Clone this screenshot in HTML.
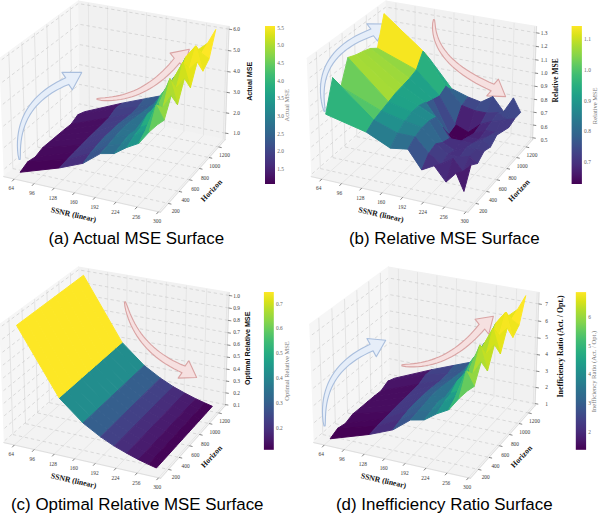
<!DOCTYPE html>
<html><head><meta charset="utf-8"><style>
html,body{margin:0;padding:0;background:#fff;width:598px;height:514px;overflow:hidden;}
#wrap{position:relative;width:598px;height:514px;}
#wrap svg{position:absolute;left:0;top:0;}
.t{position:absolute;font-family:"Liberation Sans",sans-serif;font-size:16.9px;color:#000;white-space:nowrap;line-height:1;}
</style></head><body><div id="wrap">
<svg width="598" height="514" viewBox="0 0 430.56 370.08" version="1.1">
 
 <defs>
  <style type="text/css">*{stroke-linejoin: round; stroke-linecap: butt}</style>
 </defs>
 <g id="figure_1">
  <g id="patch_1">
   <path d="M 0 370.08 L 430.56 370.08 L 430.56 0 L 0 0 z" style="fill: #ffffff"/>
  </g>
  <g id="patch_2">
   <path d="M -13.01 170.19 L 176.65 170.19 L 176.65 -19.48 L -13.01 -19.48 z" style="fill: #ffffff"/>
  </g>
  <g id="pane3d_1">
   <g id="patch_3">
    <path d="M 2.69 127.14 L 57.31 79.40 L 56.34 0.83 L -0.53 42.41 
" style="fill: #f6f6f6; stroke: #f6f6f6; stroke-linejoin: miter"/>
   </g>
  </g>
  <g id="pane3d_2">
   <g id="patch_4">
    <path d="M 57.31 79.40 L 161.99 100.55 L 164.90 19.22 L 56.34 0.83 
" style="fill: #f1f1f1; stroke: #f1f1f1; stroke-linejoin: miter"/>
   </g>
  </g>
  <g id="pane3d_3">
   <g id="patch_5">
    <path d="M 2.69 127.14 L 115.54 152.77 L 161.99 100.55 L 57.31 79.40 
" style="fill: #f3f3f3; stroke: #f3f3f3; stroke-linejoin: miter"/>
   </g>
  </g>
  <g id="grid3d_1">
   <g id="Line3DCollection_1">
    <path d="M 10.26 128.86 L 64.36 80.82 L 63.64 2.07 
" style="fill: none; stroke: #dbdbdb; stroke-width: 0.4"/>
    <path d="M 24.56 132.10 L 77.67 83.51 L 77.42 4.40 
" style="fill: none; stroke: #dbdbdb; stroke-width: 0.4"/>
    <path d="M 39.03 135.39 L 91.12 86.23 L 91.37 6.76 
" style="fill: none; stroke: #dbdbdb; stroke-width: 0.4"/>
    <path d="M 53.68 138.72 L 104.72 88.98 L 105.47 9.15 
" style="fill: none; stroke: #dbdbdb; stroke-width: 0.4"/>
    <path d="M 68.52 142.09 L 118.48 91.76 L 119.73 11.57 
" style="fill: none; stroke: #dbdbdb; stroke-width: 0.4"/>
    <path d="M 83.53 145.50 L 132.39 94.57 L 134.17 14.01 
" style="fill: none; stroke: #dbdbdb; stroke-width: 0.4"/>
    <path d="M 98.74 148.95 L 146.46 97.41 L 148.77 16.48 
" style="fill: none; stroke: #dbdbdb; stroke-width: 0.4"/>
    <path d="M 114.14 152.45 L 160.69 100.28 L 163.55 18.99 
" style="fill: none; stroke: #dbdbdb; stroke-width: 0.4"/>
   </g>
  </g>
  <g id="grid3d_2">
   <g id="Line3DCollection_2">
    <path d="M 6.33 37.39 L 9.26 121.39" style="fill: none; stroke: #d4d4d4; stroke-width: 0.4"/><path d="M 9.26 121.39 L 121.16 146.46" style="fill: none; stroke-dasharray: 2.4,2; stroke-dashoffset: 0; stroke: #c2c2c2; stroke-width: 0.4"/>
    <path d="M 15.74 30.51 L 18.28 113.51" style="fill: none; stroke: #d4d4d4; stroke-width: 0.4"/><path d="M 18.28 113.51 L 128.85 137.81" style="fill: none; stroke-dasharray: 2.4,2; stroke-dashoffset: 0; stroke: #c2c2c2; stroke-width: 0.4"/>
    <path d="M 24.87 23.84 L 27.04 105.85" style="fill: none; stroke: #d4d4d4; stroke-width: 0.4"/><path d="M 27.04 105.85 L 136.30 129.43" style="fill: none; stroke-dasharray: 2.4,2; stroke-dashoffset: 0; stroke: #c2c2c2; stroke-width: 0.4"/>
    <path d="M 33.72 17.37 L 35.54 98.42" style="fill: none; stroke: #d4d4d4; stroke-width: 0.4"/><path d="M 35.54 98.42 L 143.53 121.30" style="fill: none; stroke-dasharray: 2.4,2; stroke-dashoffset: 0; stroke: #c2c2c2; stroke-width: 0.4"/>
    <path d="M 42.31 11.09 L 43.80 91.20" style="fill: none; stroke: #d4d4d4; stroke-width: 0.4"/><path d="M 43.80 91.20 L 150.54 113.42" style="fill: none; stroke-dasharray: 2.4,2; stroke-dashoffset: 0; stroke: #c2c2c2; stroke-width: 0.4"/>
    <path d="M 50.65 4.99 L 51.83 84.19" style="fill: none; stroke: #d4d4d4; stroke-width: 0.4"/><path d="M 51.83 84.19 L 157.35 105.77" style="fill: none; stroke-dasharray: 2.4,2; stroke-dashoffset: 0; stroke: #c2c2c2; stroke-width: 0.4"/>
   </g>
  </g>
  <g id="grid3d_3">
   <g id="Line3DCollection_3">
    <path d="M 162.16 95.83 L 57.26 74.83 L 2.50 122.23 
" style="fill: none; stroke-dasharray: 2.4,2; stroke-dashoffset: 0; stroke: #c2c2c2; stroke-width: 0.4"/>
    <path d="M 162.68 81.26 L 57.08 60.74 L 1.92 107.08 
" style="fill: none; stroke-dasharray: 2.4,2; stroke-dashoffset: 0; stroke: #c2c2c2; stroke-width: 0.4"/>
    <path d="M 163.21 66.50 L 56.90 46.48 L 1.34 91.71 
" style="fill: none; stroke-dasharray: 2.4,2; stroke-dashoffset: 0; stroke: #c2c2c2; stroke-width: 0.4"/>
    <path d="M 163.74 51.54 L 56.73 32.02 L 0.74 76.12 
" style="fill: none; stroke-dasharray: 2.4,2; stroke-dashoffset: 0; stroke: #c2c2c2; stroke-width: 0.4"/>
    <path d="M 164.29 36.37 L 56.55 17.38 L 0.14 60.31 
" style="fill: none; stroke-dasharray: 2.4,2; stroke-dashoffset: 0; stroke: #c2c2c2; stroke-width: 0.4"/>
    <path d="M 164.84 21.00 L 56.36 2.55 L -0.46 44.27 
" style="fill: none; stroke-dasharray: 2.4,2; stroke-dashoffset: 0; stroke: #c2c2c2; stroke-width: 0.4"/>
   </g>
  </g>
  <g id="axis3d_1">
   <g id="line2d_1">
    <path d="M 2.69 127.14 L 115.54 152.77 
" style="fill: none; stroke: #cccccc; stroke-width: 0.4; stroke-linecap: square"/>
   </g>
   <g id="xtick_1">
    <g id="line2d_2">
     <path d="M 13.10 126.34 L 10.26 128.86 
" style="fill: none"/>
    </g>
   </g>
   <g id="xtick_2">
    <g id="line2d_3">
     <path d="M 27.35 129.55 L 24.56 132.10 
" style="fill: none"/>
    </g>
   </g>
   <g id="xtick_3">
    <g id="line2d_4">
     <path d="M 41.77 132.81 L 39.03 135.39 
" style="fill: none"/>
    </g>
   </g>
   <g id="xtick_4">
    <g id="line2d_5">
     <path d="M 56.37 136.10 L 53.68 138.72 
" style="fill: none"/>
    </g>
   </g>
   <g id="xtick_5">
    <g id="line2d_6">
     <path d="M 71.14 139.44 L 68.52 142.09 
" style="fill: none"/>
    </g>
   </g>
   <g id="xtick_6">
    <g id="line2d_7">
     <path d="M 86.11 142.82 L 83.53 145.50 
" style="fill: none"/>
    </g>
   </g>
   <g id="xtick_7">
    <g id="line2d_8">
     <path d="M 101.25 146.24 L 98.74 148.95 
" style="fill: none"/>
    </g>
   </g>
   <g id="xtick_8">
    <g id="line2d_9">
     <path d="M 116.59 149.70 L 114.14 152.45 
" style="fill: none"/>
    </g>
   </g>
  </g>
  <g id="axis3d_2">
   <g id="line2d_10">
    <path d="M 161.99 100.55 L 115.54 152.77 
" style="fill: none; stroke: #cccccc; stroke-width: 0.4; stroke-linecap: square"/>
   </g>
   <g id="xtick_9">
    <g id="line2d_11">
     <path d="M 115.54 145.20 L 121.16 146.46 
" style="fill: none"/>
    </g>
   </g>
   <g id="xtick_10">
    <g id="line2d_12">
     <path d="M 123.30 136.59 L 128.85 137.81 
" style="fill: none"/>
    </g>
   </g>
   <g id="xtick_11">
    <g id="line2d_13">
     <path d="M 130.83 128.25 L 136.30 129.43 
" style="fill: none"/>
    </g>
   </g>
   <g id="xtick_12">
    <g id="line2d_14">
     <path d="M 138.12 120.16 L 143.53 121.30 
" style="fill: none"/>
    </g>
   </g>
   <g id="xtick_13">
    <g id="line2d_15">
     <path d="M 145.20 112.31 L 150.54 113.42 
" style="fill: none"/>
    </g>
   </g>
   <g id="xtick_14">
    <g id="line2d_16">
     <path d="M 152.07 104.69 L 157.35 105.77 
" style="fill: none"/>
    </g>
   </g>
  </g>
  <g id="axis3d_3">
   <g id="line2d_17">
    <path d="M 161.99 100.55 L 164.90 19.22 
" style="fill: none; stroke: #cccccc; stroke-width: 0.4; stroke-linecap: square"/>
   </g>
   <g id="xtick_15">
    <g id="line2d_18">
     <path d="M 156.92 94.78 L 162.16 95.83 
" style="fill: none"/>
    </g>
   </g>
   <g id="xtick_16">
    <g id="line2d_19">
     <path d="M 157.40 80.23 L 162.68 81.26 
" style="fill: none"/>
    </g>
   </g>
   <g id="xtick_17">
    <g id="line2d_20">
     <path d="M 157.89 65.50 L 163.21 66.50 
" style="fill: none"/>
    </g>
   </g>
   <g id="xtick_18">
    <g id="line2d_21">
     <path d="M 158.39 50.56 L 163.74 51.54 
" style="fill: none"/>
    </g>
   </g>
   <g id="xtick_19">
    <g id="line2d_22">
     <path d="M 158.89 35.42 L 164.29 36.37 
" style="fill: none"/>
    </g>
   </g>
   <g id="xtick_20">
    <g id="line2d_23">
     <path d="M 159.41 20.07 L 164.84 21.00 
" style="fill: none"/>
    </g>
   </g>
  </g>
  <g id="axes_1">
   <g transform="scale(0.72)"><path d="M20.14 159.45 L20.36 154.66 L20.43 150.07 L20.67 145.63 L21.1 141.34 L21.72 137.19 L22.55 133.18 L23.58 129.31 L24.82 125.58 L26.26 121.98 L27.9 118.51 L29.76 115.17 L31.82 111.96 L34.08 108.88 L36.56 105.91 L39.25 103.06 L42.15 100.33 L45.27 97.71 L48.6 95.21 L52.16 92.82 L55.94 90.55 L59.94 88.39 L64.16 86.34 L68.68 84.38 L72.45 89.85 L81.7 72.4 L61.95 72.35 L65.72 77.82 L61.13 79.96 L56.69 82.27 L52.48 84.71 L48.5 87.28 L44.75 89.98 L41.24 92.82 L37.95 95.79 L34.91 98.89 L32.1 102.12 L29.53 105.48 L27.21 108.96 L25.13 112.57 L23.3 116.29 L21.71 120.14 L20.37 124.09 L19.27 128.17 L18.43 132.35 L17.83 136.63 L17.48 141.03 L17.38 145.52 L17.55 150.12 L18.01 154.81 L19.06 159.55 Z" fill="#e6eef9" stroke="#a9bedd" stroke-width="1.1" stroke-linejoin="miter"/><path d="M96.98 99.54 L100.97 100.33 L104.98 100.58 L108.95 100.6 L112.9 100.42 L116.81 100.05 L120.68 99.49 L124.51 98.75 L128.31 97.83 L132.07 96.72 L135.78 95.44 L139.45 93.98 L143.08 92.35 L146.66 90.53 L150.19 88.55 L153.68 86.38 L157.12 84.05 L160.5 81.54 L163.84 78.86 L167.13 76 L170.37 72.98 L173.56 69.78 L176.69 66.42 L179.74 62.93 L183.9 68.11 L189.3 49.3 L170.1 53.09 L174.26 58.27 L171.38 61.76 L168.5 65.05 L165.57 68.18 L162.61 71.14 L159.59 73.94 L156.54 76.59 L153.44 79.07 L150.3 81.4 L147.11 83.57 L143.87 85.58 L140.59 87.44 L137.26 89.14 L133.88 90.69 L130.45 92.09 L126.97 93.33 L123.43 94.43 L119.84 95.37 L116.2 96.16 L112.49 96.81 L108.73 97.32 L104.91 97.7 L101.01 97.97 L97.02 98.46 Z" fill="#f6e0e0" stroke="#d9a3a3" stroke-width="1.1" stroke-linejoin="miter"/></g><g id="Poly3DCollection_1">
    <path d="M 56.02 82.63 L 83.15 78.13 L 87.80 74.31 L 60.85 80.44 z" clip-path="url(#p6615d62ce2)" style="fill: #481a6c; stroke: #481a6c; stroke-width: 0.7; stroke-linejoin: round"/>
    <path d="M 51.16 89.44 L 78.43 84.78 L 83.15 78.13 L 56.02 82.63 z" clip-path="url(#p6615d62ce2)" style="fill: #481769; stroke: #481769; stroke-width: 0.7; stroke-linejoin: round"/>
    <path d="M 83.15 78.13 L 99.23 77.15 L 103.79 71.24 L 87.80 74.31 z" clip-path="url(#p6615d62ce2)" style="fill: #414487; stroke: #414487; stroke-width: 0.7; stroke-linejoin: round"/>
    <path d="M 46.18 93.36 L 73.62 89.67 L 78.43 84.78 L 51.16 89.44 z" clip-path="url(#p6615d62ce2)" style="fill: #470e61; stroke: #470e61; stroke-width: 0.7; stroke-linejoin: round"/>
    <path d="M 99.23 77.15 L 111.16 74.31 L 115.64 69.01 L 103.79 71.24 z" clip-path="url(#p6615d62ce2)" style="fill: #375b8d; stroke: #375b8d; stroke-width: 0.7; stroke-linejoin: round"/>
    <path d="M 78.43 84.78 L 94.60 81.85 L 99.23 77.15 L 83.15 78.13 z" clip-path="url(#p6615d62ce2)" style="fill: #423f85; stroke: #423f85; stroke-width: 0.7; stroke-linejoin: round"/>
    <path d="M 41.11 97.60 L 68.73 94.41 L 73.62 89.67 L 46.18 93.36 z" clip-path="url(#p6615d62ce2)" style="fill: #470e61; stroke: #470e61; stroke-width: 0.7; stroke-linejoin: round"/>
    <path d="M 111.16 74.31 L 120.64 67.25 L 125.19 55.59 L 115.64 69.01 z" clip-path="url(#p6615d62ce2)" style="fill: #287c8e; stroke: #287c8e; stroke-width: 0.7; stroke-linejoin: round"/>
    <path d="M 94.60 81.85 L 106.62 77.76 L 111.16 74.31 L 99.23 77.15 z" clip-path="url(#p6615d62ce2)" style="fill: #38588c; stroke: #38588c; stroke-width: 0.7; stroke-linejoin: round"/>
    <path d="M 73.62 89.67 L 89.90 85.59 L 94.60 81.85 L 78.43 84.78 z" clip-path="url(#p6615d62ce2)" style="fill: #443b84; stroke: #443b84; stroke-width: 0.7; stroke-linejoin: round"/>
    <path d="M 35.95 101.96 L 63.75 99.23 L 68.73 94.41 L 41.11 97.60 z" clip-path="url(#p6615d62ce2)" style="fill: #470e61; stroke: #470e61; stroke-width: 0.7; stroke-linejoin: round"/>
    <path d="M 106.62 77.76 L 116.12 73.07 L 120.64 67.25 L 111.16 74.31 z" clip-path="url(#p6615d62ce2)" style="fill: #2c738e; stroke: #2c738e; stroke-width: 0.7; stroke-linejoin: round"/>
    <path d="M 120.64 67.25 L 129.49 53.87 L 133.97 45.18 L 125.19 55.59 z" clip-path="url(#p6615d62ce2)" style="fill: #26ad81; stroke: #26ad81; stroke-width: 0.7; stroke-linejoin: round"/>
    <path d="M 89.90 85.59 L 101.99 81.27 L 106.62 77.76 L 94.60 81.85 z" clip-path="url(#p6615d62ce2)" style="fill: #375b8d; stroke: #375b8d; stroke-width: 0.7; stroke-linejoin: round"/>
    <path d="M 68.73 94.41 L 85.10 89.39 L 89.90 85.59 L 73.62 89.67 z" clip-path="url(#p6615d62ce2)" style="fill: #433d84; stroke: #433d84; stroke-width: 0.7; stroke-linejoin: round"/>
    <path d="M 30.69 106.29 L 58.68 104.38 L 63.75 99.23 L 35.95 101.96 z" clip-path="url(#p6615d62ce2)" style="fill: #470e61; stroke: #470e61; stroke-width: 0.7; stroke-linejoin: round"/>
    <path d="M 101.99 81.27 L 111.52 79.00 L 116.12 73.07 L 106.62 77.76 z" clip-path="url(#p6615d62ce2)" style="fill: #2c728e; stroke: #2c728e; stroke-width: 0.7; stroke-linejoin: round"/>
    <path d="M 116.12 73.07 L 125.02 58.12 L 129.49 53.87 L 120.64 67.25 z" clip-path="url(#p6615d62ce2)" style="fill: #1fa188; stroke: #1fa188; stroke-width: 0.7; stroke-linejoin: round"/>
    <path d="M 129.49 53.87 L 138.02 41.66 L 142.40 36.03 L 133.97 45.18 z" clip-path="url(#p6615d62ce2)" style="fill: #89d548; stroke: #89d548; stroke-width: 0.7; stroke-linejoin: round"/>
    <path d="M 63.75 99.23 L 80.21 93.98 L 85.10 89.39 L 68.73 94.41 z" clip-path="url(#p6615d62ce2)" style="fill: #433d84; stroke: #433d84; stroke-width: 0.7; stroke-linejoin: round"/>
    <path d="M 85.10 89.39 L 97.27 84.85 L 101.99 81.27 L 89.90 85.59 z" clip-path="url(#p6615d62ce2)" style="fill: #355e8d; stroke: #355e8d; stroke-width: 0.7; stroke-linejoin: round"/>
    <path d="M 25.40 113.01 L 53.51 109.62 L 58.68 104.38 L 30.69 106.29 z" clip-path="url(#p6615d62ce2)" style="fill: #460a5d; stroke: #460a5d; stroke-width: 0.7; stroke-linejoin: round"/>
    <path d="M 111.52 79.00 L 120.42 65.51 L 125.02 58.12 L 116.12 73.07 z" clip-path="url(#p6615d62ce2)" style="fill: #1e9b8a; stroke: #1e9b8a; stroke-width: 0.7; stroke-linejoin: round"/>
    <path d="M 138.02 41.66 L 145.07 38.28 L 149.46 31.12 L 142.40 36.03 z" clip-path="url(#p6615d62ce2)" style="fill: #e5e419; stroke: #e5e419; stroke-width: 0.7; stroke-linejoin: round"/>
    <path d="M 97.27 84.85 L 106.86 83.51 L 111.52 79.00 L 101.99 81.27 z" clip-path="url(#p6615d62ce2)" style="fill: #2c728e; stroke: #2c728e; stroke-width: 0.7; stroke-linejoin: round"/>
    <path d="M 125.02 58.12 L 133.69 41.18 L 138.02 41.66 L 129.49 53.87 z" clip-path="url(#p6615d62ce2)" style="fill: #84d44b; stroke: #84d44b; stroke-width: 0.7; stroke-linejoin: round"/>
    <path d="M 58.68 104.38 L 75.23 98.66 L 80.21 93.98 L 63.75 99.23 z" clip-path="url(#p6615d62ce2)" style="fill: #443b84; stroke: #443b84; stroke-width: 0.7; stroke-linejoin: round"/>
    <path d="M 80.21 93.98 L 92.46 88.50 L 97.27 84.85 L 85.10 89.39 z" clip-path="url(#p6615d62ce2)" style="fill: #34618d; stroke: #34618d; stroke-width: 0.7; stroke-linejoin: round"/>
    <path d="M 145.07 38.28 L 150.55 42.37 L 155.34 21.26 L 149.46 31.12 z" clip-path="url(#p6615d62ce2)" style="fill: #fde725; stroke: #fde725; stroke-width: 0.7; stroke-linejoin: round"/>
    <path d="M 19.92 116.51 L 48.25 114.96 L 53.51 109.62 L 25.40 113.01 z" clip-path="url(#p6615d62ce2)" style="fill: #46085c; stroke: #46085c; stroke-width: 0.7; stroke-linejoin: round"/>
    <path d="M 106.86 83.51 L 115.82 68.40 L 120.42 65.51 L 111.52 79.00 z" clip-path="url(#p6615d62ce2)" style="fill: #1f988b; stroke: #1f988b; stroke-width: 0.7; stroke-linejoin: round"/>
    <path d="M 92.46 88.50 L 102.08 91.16 L 106.86 83.51 L 97.27 84.85 z" clip-path="url(#p6615d62ce2)" style="fill: #2c718e; stroke: #2c718e; stroke-width: 0.7; stroke-linejoin: round"/>
    <path d="M 133.69 41.18 L 140.92 33.07 L 145.07 38.28 L 138.02 41.66 z" clip-path="url(#p6615d62ce2)" style="fill: #fbe723; stroke: #fbe723; stroke-width: 0.7; stroke-linejoin: round"/>
    <path d="M 120.42 65.51 L 128.99 54.75 L 133.69 41.18 L 125.02 58.12 z" clip-path="url(#p6615d62ce2)" style="fill: #73d056; stroke: #73d056; stroke-width: 0.7; stroke-linejoin: round"/>
    <path d="M 53.51 109.62 L 70.17 104.14 L 75.23 98.66 L 58.68 104.38 z" clip-path="url(#p6615d62ce2)" style="fill: #443a83; stroke: #443a83; stroke-width: 0.7; stroke-linejoin: round"/>
    <path d="M 140.92 33.07 L 146.09 51.23 L 150.55 42.37 L 145.07 38.28 z" clip-path="url(#p6615d62ce2)" style="fill: #ece51b; stroke: #ece51b; stroke-width: 0.7; stroke-linejoin: round"/>
    <path d="M 75.23 98.66 L 87.56 93.17 L 92.46 88.50 L 80.21 93.98 z" clip-path="url(#p6615d62ce2)" style="fill: #34618d; stroke: #34618d; stroke-width: 0.7; stroke-linejoin: round"/>
    <path d="M 14.46 124.04 L 42.91 120.89 L 48.25 114.96 L 19.92 116.51 z" clip-path="url(#p6615d62ce2)" style="fill: #450457; stroke: #450457; stroke-width: 0.7; stroke-linejoin: round"/>
    <path d="M 102.08 91.16 L 111.02 79.11 L 115.82 68.40 L 106.86 83.51 z" clip-path="url(#p6615d62ce2)" style="fill: #21918c; stroke: #21918c; stroke-width: 0.7; stroke-linejoin: round"/>
    <path d="M 128.99 54.75 L 136.14 49.82 L 140.92 33.07 L 133.69 41.18 z" clip-path="url(#p6615d62ce2)" style="fill: #e7e419; stroke: #e7e419; stroke-width: 0.7; stroke-linejoin: round"/>
    <path d="M 115.82 68.40 L 124.43 57.56 L 128.99 54.75 L 120.42 65.51 z" clip-path="url(#p6615d62ce2)" style="fill: #5ec962; stroke: #5ec962; stroke-width: 0.7; stroke-linejoin: round"/>
    <path d="M 87.56 93.17 L 97.26 94.33 L 102.08 91.16 L 92.46 88.50 z" clip-path="url(#p6615d62ce2)" style="fill: #2c718e; stroke: #2c718e; stroke-width: 0.7; stroke-linejoin: round"/>
    <path d="M 48.25 114.96 L 65.01 110.44 L 70.17 104.14 L 53.51 109.62 z" clip-path="url(#p6615d62ce2)" style="fill: #453781; stroke: #453781; stroke-width: 0.7; stroke-linejoin: round"/>
    <path d="M 136.14 49.82 L 141.96 44.57 L 146.09 51.23 L 140.92 33.07 z" clip-path="url(#p6615d62ce2)" style="fill: #f4e61e; stroke: #f4e61e; stroke-width: 0.7; stroke-linejoin: round"/>
    <path d="M 70.17 104.14 L 82.56 98.87 L 87.56 93.17 L 75.23 98.66 z" clip-path="url(#p6615d62ce2)" style="fill: #34608d; stroke: #34608d; stroke-width: 0.7; stroke-linejoin: round"/>
    <path d="M 97.26 94.33 L 106.24 82.19 L 111.02 79.11 L 102.08 91.16 z" clip-path="url(#p6615d62ce2)" style="fill: #228b8d; stroke: #228b8d; stroke-width: 0.7; stroke-linejoin: round"/>
    <path d="M 111.02 79.11 L 119.62 69.86 L 124.43 57.56 L 115.82 68.40 z" clip-path="url(#p6615d62ce2)" style="fill: #48c16e; stroke: #48c16e; stroke-width: 0.7; stroke-linejoin: round"/>
    <path d="M 124.43 57.56 L 131.80 44.67 L 136.14 49.82 L 128.99 54.75 z" clip-path="url(#p6615d62ce2)" style="fill: #cde11d; stroke: #cde11d; stroke-width: 0.7; stroke-linejoin: round"/>
    <path d="M 82.56 98.87 L 92.34 97.57 L 97.26 94.33 L 87.56 93.17 z" clip-path="url(#p6615d62ce2)" style="fill: #2c738e; stroke: #2c738e; stroke-width: 0.7; stroke-linejoin: round"/>
    <path d="M 42.91 120.89 L 59.77 117.58 L 65.01 110.44 L 48.25 114.96 z" clip-path="url(#p6615d62ce2)" style="fill: #472f7d; stroke: #472f7d; stroke-width: 0.7; stroke-linejoin: round"/>
    <path d="M 131.80 44.67 L 137.11 63.09 L 141.96 44.57 L 136.14 49.82 z" clip-path="url(#p6615d62ce2)" style="fill: #e5e419; stroke: #e5e419; stroke-width: 0.7; stroke-linejoin: round"/>
    <path d="M 65.01 110.44 L 77.47 104.67 L 82.56 98.87 L 70.17 104.14 z" clip-path="url(#p6615d62ce2)" style="fill: #365c8d; stroke: #365c8d; stroke-width: 0.7; stroke-linejoin: round"/>
    <path d="M 106.24 82.19 L 114.87 74.45 L 119.62 69.86 L 111.02 79.11 z" clip-path="url(#p6615d62ce2)" style="fill: #34b679; stroke: #34b679; stroke-width: 0.7; stroke-linejoin: round"/>
    <path d="M 119.62 69.86 L 126.87 63.36 L 131.80 44.67 L 124.43 57.56 z" clip-path="url(#p6615d62ce2)" style="fill: #b0dd2f; stroke: #b0dd2f; stroke-width: 0.7; stroke-linejoin: round"/>
    <path d="M 92.34 97.57 L 101.31 91.61 L 106.24 82.19 L 97.26 94.33 z" clip-path="url(#p6615d62ce2)" style="fill: #228b8d; stroke: #228b8d; stroke-width: 0.7; stroke-linejoin: round"/>
    <path d="M 77.47 104.67 L 87.31 103.99 L 92.34 97.57 L 82.56 98.87 z" clip-path="url(#p6615d62ce2)" style="fill: #2c718e; stroke: #2c718e; stroke-width: 0.7; stroke-linejoin: round"/>
    <path d="M 126.87 63.36 L 132.77 56.50 L 137.11 63.09 L 131.80 44.67 z" clip-path="url(#p6615d62ce2)" style="fill: #d0e11c; stroke: #d0e11c; stroke-width: 0.7; stroke-linejoin: round"/>
    <path d="M 59.77 117.58 L 72.28 110.59 L 77.47 104.67 L 65.01 110.44 z" clip-path="url(#p6615d62ce2)" style="fill: #39558c; stroke: #39558c; stroke-width: 0.7; stroke-linejoin: round"/>
    <path d="M 101.31 91.61 L 109.91 88.63 L 114.87 74.45 L 106.24 82.19 z" clip-path="url(#p6615d62ce2)" style="fill: #25ac82; stroke: #25ac82; stroke-width: 0.7; stroke-linejoin: round"/>
    <path d="M 114.87 74.45 L 122.35 56.70 L 126.87 63.36 L 119.62 69.86 z" clip-path="url(#p6615d62ce2)" style="fill: #95d840; stroke: #95d840; stroke-width: 0.7; stroke-linejoin: round"/>
    <path d="M 87.31 103.99 L 96.33 98.03 L 101.31 91.61 L 92.34 97.57 z" clip-path="url(#p6615d62ce2)" style="fill: #25858e; stroke: #25858e; stroke-width: 0.7; stroke-linejoin: round"/>
    <path d="M 72.28 110.59 L 82.18 110.54 L 87.31 103.99 L 77.47 104.67 z" clip-path="url(#p6615d62ce2)" style="fill: #2e6d8e; stroke: #2e6d8e; stroke-width: 0.7; stroke-linejoin: round"/>
    <path d="M 122.35 56.70 L 127.81 75.39 L 132.77 56.50 L 126.87 63.36 z" clip-path="url(#p6615d62ce2)" style="fill: #c0df25; stroke: #c0df25; stroke-width: 0.7; stroke-linejoin: round"/>
    <path d="M 96.33 98.03 L 104.99 93.47 L 109.91 88.63 L 101.31 91.61 z" clip-path="url(#p6615d62ce2)" style="fill: #1f9e89; stroke: #1f9e89; stroke-width: 0.7; stroke-linejoin: round"/>
    <path d="M 109.91 88.63 L 117.28 77.36 L 122.35 56.70 L 114.87 74.45 z" clip-path="url(#p6615d62ce2)" style="fill: #73d056; stroke: #73d056; stroke-width: 0.7; stroke-linejoin: round"/>
    <path d="M 82.18 110.54 L 91.25 106.15 L 96.33 98.03 L 87.31 103.99 z" clip-path="url(#p6615d62ce2)" style="fill: #277e8e; stroke: #277e8e; stroke-width: 0.7; stroke-linejoin: round"/>
    <path d="M 117.28 77.36 L 123.25 68.85 L 127.81 75.39 L 122.35 56.70 z" clip-path="url(#p6615d62ce2)" style="fill: #addc30; stroke: #addc30; stroke-width: 0.7; stroke-linejoin: round"/>
    <path d="M 104.99 93.47 L 112.47 75.68 L 117.28 77.36 L 109.91 88.63 z" clip-path="url(#p6615d62ce2)" style="fill: #4cc26c; stroke: #4cc26c; stroke-width: 0.7; stroke-linejoin: round"/>
    <path d="M 91.25 106.15 L 99.93 103.20 L 104.99 93.47 L 96.33 98.03 z" clip-path="url(#p6615d62ce2)" style="fill: #1f958b; stroke: #1f958b; stroke-width: 0.7; stroke-linejoin: round"/>
    <path d="M 112.47 75.68 L 118.19 86.52 L 123.25 68.85 L 117.28 77.36 z" clip-path="url(#p6615d62ce2)" style="fill: #90d743; stroke: #90d743; stroke-width: 0.7; stroke-linejoin: round"/>
    <path d="M 99.93 103.20 L 107.31 95.09 L 112.47 75.68 L 104.99 93.47 z" clip-path="url(#p6615d62ce2)" style="fill: #37b878; stroke: #37b878; stroke-width: 0.7; stroke-linejoin: round"/>
    <path d="M 107.31 95.09 L 113.27 89.82 L 118.19 86.52 L 112.47 75.68 z" clip-path="url(#p6615d62ce2)" style="fill: #65cb5e; stroke: #65cb5e; stroke-width: 0.7; stroke-linejoin: round"/>
   </g>
  </g>
  <g id="patch_6">
   <path d="M 208.38 170.19 L 398.05 170.19 L 398.05 -19.48 L 208.38 -19.48 z" style="fill: #ffffff"/>
  </g>
  <g id="pane3d_4">
   <g id="patch_7">
    <path d="M 224.09 127.14 L 278.71 79.40 L 277.74 0.83 L 220.86 42.41 
" style="fill: #f6f6f6; stroke: #f6f6f6; stroke-linejoin: miter"/>
   </g>
  </g>
  <g id="pane3d_5">
   <g id="patch_8">
    <path d="M 278.71 79.40 L 383.39 100.55 L 386.30 19.22 L 277.74 0.83 
" style="fill: #f1f1f1; stroke: #f1f1f1; stroke-linejoin: miter"/>
   </g>
  </g>
  <g id="pane3d_6">
   <g id="patch_9">
    <path d="M 224.09 127.14 L 336.94 152.77 L 383.39 100.55 L 278.71 79.40 
" style="fill: #f3f3f3; stroke: #f3f3f3; stroke-linejoin: miter"/>
   </g>
  </g>
  <g id="grid3d_4">
   <g id="Line3DCollection_4">
    <path d="M 231.66 128.86 L 285.76 80.82 L 285.04 2.07 
" style="fill: none; stroke: #dbdbdb; stroke-width: 0.4"/>
    <path d="M 245.96 132.10 L 299.07 83.51 L 298.82 4.40 
" style="fill: none; stroke: #dbdbdb; stroke-width: 0.4"/>
    <path d="M 260.43 135.39 L 312.52 86.23 L 312.77 6.76 
" style="fill: none; stroke: #dbdbdb; stroke-width: 0.4"/>
    <path d="M 275.08 138.72 L 326.12 88.98 L 326.87 9.15 
" style="fill: none; stroke: #dbdbdb; stroke-width: 0.4"/>
    <path d="M 289.92 142.09 L 339.88 91.76 L 341.13 11.57 
" style="fill: none; stroke: #dbdbdb; stroke-width: 0.4"/>
    <path d="M 304.93 145.50 L 353.79 94.57 L 355.57 14.01 
" style="fill: none; stroke: #dbdbdb; stroke-width: 0.4"/>
    <path d="M 320.14 148.95 L 367.86 97.41 L 370.17 16.48 
" style="fill: none; stroke: #dbdbdb; stroke-width: 0.4"/>
    <path d="M 335.54 152.45 L 382.09 100.28 L 384.95 18.99 
" style="fill: none; stroke: #dbdbdb; stroke-width: 0.4"/>
   </g>
  </g>
  <g id="grid3d_5">
   <g id="Line3DCollection_5">
    <path d="M 227.73 37.39 L 230.66 121.39" style="fill: none; stroke: #d4d4d4; stroke-width: 0.4"/><path d="M 230.66 121.39 L 342.56 146.46" style="fill: none; stroke-dasharray: 2.4,2; stroke-dashoffset: 0; stroke: #c2c2c2; stroke-width: 0.4"/>
    <path d="M 237.14 30.51 L 239.68 113.51" style="fill: none; stroke: #d4d4d4; stroke-width: 0.4"/><path d="M 239.68 113.51 L 350.25 137.81" style="fill: none; stroke-dasharray: 2.4,2; stroke-dashoffset: 0; stroke: #c2c2c2; stroke-width: 0.4"/>
    <path d="M 246.27 23.84 L 248.44 105.85" style="fill: none; stroke: #d4d4d4; stroke-width: 0.4"/><path d="M 248.44 105.85 L 357.70 129.43" style="fill: none; stroke-dasharray: 2.4,2; stroke-dashoffset: 0; stroke: #c2c2c2; stroke-width: 0.4"/>
    <path d="M 255.12 17.37 L 256.94 98.42" style="fill: none; stroke: #d4d4d4; stroke-width: 0.4"/><path d="M 256.94 98.42 L 364.93 121.30" style="fill: none; stroke-dasharray: 2.4,2; stroke-dashoffset: 0; stroke: #c2c2c2; stroke-width: 0.4"/>
    <path d="M 263.71 11.09 L 265.20 91.20" style="fill: none; stroke: #d4d4d4; stroke-width: 0.4"/><path d="M 265.20 91.20 L 371.94 113.42" style="fill: none; stroke-dasharray: 2.4,2; stroke-dashoffset: 0; stroke: #c2c2c2; stroke-width: 0.4"/>
    <path d="M 272.05 4.99 L 273.23 84.19" style="fill: none; stroke: #d4d4d4; stroke-width: 0.4"/><path d="M 273.23 84.19 L 378.75 105.77" style="fill: none; stroke-dasharray: 2.4,2; stroke-dashoffset: 0; stroke: #c2c2c2; stroke-width: 0.4"/>
   </g>
  </g>
  <g id="grid3d_6">
   <g id="Line3DCollection_6">
    <path d="M 383.44 99.18 L 278.70 78.07 L 224.03 125.72 
" style="fill: none; stroke-dasharray: 2.4,2; stroke-dashoffset: 0; stroke: #c2c2c2; stroke-width: 0.4"/>
    <path d="M 383.77 90.01 L 278.59 69.21 L 223.67 116.18 
" style="fill: none; stroke-dasharray: 2.4,2; stroke-dashoffset: 0; stroke: #c2c2c2; stroke-width: 0.4"/>
    <path d="M 384.10 80.77 L 278.48 60.27 L 223.30 106.57 
" style="fill: none; stroke-dasharray: 2.4,2; stroke-dashoffset: 0; stroke: #c2c2c2; stroke-width: 0.4"/>
    <path d="M 384.43 71.45 L 278.36 51.26 L 222.93 96.86 
" style="fill: none; stroke-dasharray: 2.4,2; stroke-dashoffset: 0; stroke: #c2c2c2; stroke-width: 0.4"/>
    <path d="M 384.77 62.05 L 278.25 42.17 L 222.56 87.07 
" style="fill: none; stroke-dasharray: 2.4,2; stroke-dashoffset: 0; stroke: #c2c2c2; stroke-width: 0.4"/>
    <path d="M 385.11 52.56 L 278.14 33.01 L 222.18 77.19 
" style="fill: none; stroke-dasharray: 2.4,2; stroke-dashoffset: 0; stroke: #c2c2c2; stroke-width: 0.4"/>
    <path d="M 385.45 43.00 L 278.02 23.78 L 221.80 67.22 
" style="fill: none; stroke-dasharray: 2.4,2; stroke-dashoffset: 0; stroke: #c2c2c2; stroke-width: 0.4"/>
    <path d="M 385.79 33.35 L 277.91 14.47 L 221.42 57.16 
" style="fill: none; stroke-dasharray: 2.4,2; stroke-dashoffset: 0; stroke: #c2c2c2; stroke-width: 0.4"/>
    <path d="M 386.14 23.62 L 277.79 5.08 L 221.03 47.01 
" style="fill: none; stroke-dasharray: 2.4,2; stroke-dashoffset: 0; stroke: #c2c2c2; stroke-width: 0.4"/>
   </g>
  </g>
  <g id="axis3d_4">
   <g id="line2d_24">
    <path d="M 224.09 127.14 L 336.94 152.77 
" style="fill: none; stroke: #cccccc; stroke-width: 0.4; stroke-linecap: square"/>
   </g>
   <g id="xtick_21">
    <g id="line2d_25">
     <path d="M 234.50 126.34 L 231.66 128.86 
" style="fill: none"/>
    </g>
   </g>
   <g id="xtick_22">
    <g id="line2d_26">
     <path d="M 248.75 129.55 L 245.96 132.10 
" style="fill: none"/>
    </g>
   </g>
   <g id="xtick_23">
    <g id="line2d_27">
     <path d="M 263.17 132.81 L 260.43 135.39 
" style="fill: none"/>
    </g>
   </g>
   <g id="xtick_24">
    <g id="line2d_28">
     <path d="M 277.77 136.10 L 275.08 138.72 
" style="fill: none"/>
    </g>
   </g>
   <g id="xtick_25">
    <g id="line2d_29">
     <path d="M 292.54 139.44 L 289.92 142.09 
" style="fill: none"/>
    </g>
   </g>
   <g id="xtick_26">
    <g id="line2d_30">
     <path d="M 307.51 142.82 L 304.93 145.50 
" style="fill: none"/>
    </g>
   </g>
   <g id="xtick_27">
    <g id="line2d_31">
     <path d="M 322.65 146.24 L 320.14 148.95 
" style="fill: none"/>
    </g>
   </g>
   <g id="xtick_28">
    <g id="line2d_32">
     <path d="M 337.99 149.70 L 335.54 152.45 
" style="fill: none"/>
    </g>
   </g>
  </g>
  <g id="axis3d_5">
   <g id="line2d_33">
    <path d="M 383.39 100.55 L 336.94 152.77 
" style="fill: none; stroke: #cccccc; stroke-width: 0.4; stroke-linecap: square"/>
   </g>
   <g id="xtick_29">
    <g id="line2d_34">
     <path d="M 336.94 145.20 L 342.56 146.46 
" style="fill: none"/>
    </g>
   </g>
   <g id="xtick_30">
    <g id="line2d_35">
     <path d="M 344.70 136.59 L 350.25 137.81 
" style="fill: none"/>
    </g>
   </g>
   <g id="xtick_31">
    <g id="line2d_36">
     <path d="M 352.23 128.25 L 357.70 129.43 
" style="fill: none"/>
    </g>
   </g>
   <g id="xtick_32">
    <g id="line2d_37">
     <path d="M 359.52 120.16 L 364.93 121.30 
" style="fill: none"/>
    </g>
   </g>
   <g id="xtick_33">
    <g id="line2d_38">
     <path d="M 366.60 112.31 L 371.94 113.42 
" style="fill: none"/>
    </g>
   </g>
   <g id="xtick_34">
    <g id="line2d_39">
     <path d="M 373.47 104.69 L 378.75 105.77 
" style="fill: none"/>
    </g>
   </g>
  </g>
  <g id="axis3d_6">
   <g id="line2d_40">
    <path d="M 383.39 100.55 L 386.30 19.22 
" style="fill: none; stroke: #cccccc; stroke-width: 0.4; stroke-linecap: square"/>
   </g>
   <g id="xtick_35">
    <g id="line2d_41">
     <path d="M 378.20 98.12 L 383.44 99.18 
" style="fill: none"/>
    </g>
   </g>
   <g id="xtick_36">
    <g id="line2d_42">
     <path d="M 378.51 88.97 L 383.77 90.01 
" style="fill: none"/>
    </g>
   </g>
   <g id="xtick_37">
    <g id="line2d_43">
     <path d="M 378.82 79.74 L 384.10 80.77 
" style="fill: none"/>
    </g>
   </g>
   <g id="xtick_38">
    <g id="line2d_44">
     <path d="M 379.13 70.44 L 384.43 71.45 
" style="fill: none"/>
    </g>
   </g>
   <g id="xtick_39">
    <g id="line2d_45">
     <path d="M 379.44 61.05 L 384.77 62.05 
" style="fill: none"/>
    </g>
   </g>
   <g id="xtick_40">
    <g id="line2d_46">
     <path d="M 379.76 51.59 L 385.11 52.56 
" style="fill: none"/>
    </g>
   </g>
   <g id="xtick_41">
    <g id="line2d_47">
     <path d="M 380.07 42.04 L 385.45 43.00 
" style="fill: none"/>
    </g>
   </g>
   <g id="xtick_42">
    <g id="line2d_48">
     <path d="M 380.39 32.41 L 385.79 33.35 
" style="fill: none"/>
    </g>
   </g>
   <g id="xtick_43">
    <g id="line2d_49">
     <path d="M 380.72 22.69 L 386.14 23.62 
" style="fill: none"/>
    </g>
   </g>
  </g>
  <g id="axes_2">
   <g transform="scale(0.72)"><path d="M325.13 111.19 L324.76 106.24 L324.31 101.55 L324.08 97.03 L324.09 92.67 L324.36 88.46 L324.87 84.41 L325.65 80.51 L326.67 76.76 L327.95 73.15 L329.49 69.68 L331.28 66.34 L333.32 63.13 L335.62 60.06 L338.18 57.1 L341.01 54.26 L344.1 51.54 L347.46 48.94 L351.1 46.45 L355.01 44.08 L359.2 41.83 L363.67 39.69 L368.42 37.67 L373.51 35.75 L377.62 41.04 L385.6 24 L366.78 23.76 L370.89 29.05 L365.71 31.15 L360.74 33.42 L356.04 35.82 L351.63 38.36 L347.49 41.05 L343.64 43.88 L340.08 46.85 L336.8 49.96 L333.81 53.21 L331.12 56.59 L328.72 60.12 L326.62 63.77 L324.83 67.56 L323.34 71.46 L322.16 75.49 L321.28 79.62 L320.7 83.87 L320.43 88.23 L320.46 92.69 L320.8 97.25 L321.45 101.91 L322.44 106.66 L324.07 111.41 Z" fill="#e6eef9" stroke="#a9bedd" stroke-width="1.1" stroke-linejoin="miter"/><path d="M433.46 19.67 L432.66 23.19 L432.48 26.74 L432.62 30.27 L433.05 33.78 L433.76 37.25 L434.74 40.68 L436 44.07 L437.53 47.41 L439.32 50.7 L441.38 53.94 L443.7 57.12 L446.27 60.25 L449.11 63.31 L452.19 66.32 L455.53 69.27 L459.11 72.16 L462.95 74.99 L467.03 77.77 L471.37 80.49 L475.94 83.15 L480.77 85.75 L485.83 88.3 L491.11 90.78 L486.75 95.86 L505.6 96.6 L498.45 79.14 L494.09 84.22 L488.85 81.91 L483.89 79.57 L479.18 77.18 L474.72 74.75 L470.5 72.28 L466.53 69.76 L462.81 67.2 L459.33 64.6 L456.09 61.95 L453.09 59.27 L450.33 56.54 L447.82 53.77 L445.53 50.95 L443.48 48.09 L441.66 45.19 L440.06 42.23 L438.69 39.22 L437.54 36.16 L436.6 33.03 L435.88 29.83 L435.36 26.57 L435.01 23.21 L434.54 19.73 Z" fill="#f6e0e0" stroke="#d9a3a3" stroke-width="1.1" stroke-linejoin="miter"/></g><g id="Poly3DCollection_2">
    <path d="M 320.73 61.54 L 332.54 75.98 L 337.03 69.84 L 325.25 63.87 z" clip-path="url(#p989c612ba4)" style="fill: #32648e; stroke: #32648e; stroke-width: 0.7; stroke-linejoin: round"/>
    <path d="M 276.47 9.89 L 304.53 36.81 L 309.25 42.24 L 281.63 23.20 z" clip-path="url(#p989c612ba4)" style="fill: #fde725; stroke: #fde725; stroke-width: 0.7; stroke-linejoin: round"/>
    <path d="M 304.53 36.81 L 320.73 61.54 L 325.25 63.87 L 309.25 42.24 z" clip-path="url(#p989c612ba4)" style="fill: #25ab82; stroke: #25ab82; stroke-width: 0.7; stroke-linejoin: round"/>
    <path d="M 332.54 75.98 L 341.83 79.68 L 346.26 73.49 L 337.03 69.84 z" clip-path="url(#p989c612ba4)" style="fill: #3f4889; stroke: #3f4889; stroke-width: 0.7; stroke-linejoin: round"/>
    <path d="M 341.83 79.68 L 350.33 81.35 L 354.83 69.54 L 346.26 73.49 z" clip-path="url(#p989c612ba4)" style="fill: #3e4c8a; stroke: #3e4c8a; stroke-width: 0.7; stroke-linejoin: round"/>
    <path d="M 316.06 68.61 L 327.90 89.68 L 332.54 75.98 L 320.73 61.54 z" clip-path="url(#p989c612ba4)" style="fill: #375a8c; stroke: #375a8c; stroke-width: 0.7; stroke-linejoin: round"/>
    <path d="M 327.90 89.68 L 337.20 95.28 L 341.83 79.68 L 332.54 75.98 z" clip-path="url(#p989c612ba4)" style="fill: #482173; stroke: #482173; stroke-width: 0.7; stroke-linejoin: round"/>
    <path d="M 271.73 34.73 L 299.74 50.37 L 304.53 36.81 L 276.47 9.89 z" clip-path="url(#p989c612ba4)" style="fill: #f6e620; stroke: #f6e620; stroke-width: 0.7; stroke-linejoin: round"/>
    <path d="M 350.33 81.35 L 358.47 81.07 L 362.65 80.40 L 354.83 69.54 z" clip-path="url(#p989c612ba4)" style="fill: #3f4889; stroke: #3f4889; stroke-width: 0.7; stroke-linejoin: round"/>
    <path d="M 299.74 50.37 L 316.06 68.61 L 320.73 61.54 L 304.53 36.81 z" clip-path="url(#p989c612ba4)" style="fill: #29af7f; stroke: #29af7f; stroke-width: 0.7; stroke-linejoin: round"/>
    <path d="M 358.47 81.07 L 365.16 86.16 L 369.71 70.51 L 362.65 80.40 z" clip-path="url(#p989c612ba4)" style="fill: #3f4889; stroke: #3f4889; stroke-width: 0.7; stroke-linejoin: round"/>
    <path d="M 337.20 95.28 L 345.84 89.55 L 350.33 81.35 L 341.83 79.68 z" clip-path="url(#p989c612ba4)" style="fill: #482475; stroke: #482475; stroke-width: 0.7; stroke-linejoin: round"/>
    <path d="M 365.16 86.16 L 370.67 85.36 L 374.86 80.92 L 369.71 70.51 z" clip-path="url(#p989c612ba4)" style="fill: #3f4889; stroke: #3f4889; stroke-width: 0.7; stroke-linejoin: round"/>
    <path d="M 266.55 34.91 L 294.86 56.45 L 299.74 50.37 L 271.73 34.73 z" clip-path="url(#p989c612ba4)" style="fill: #93d741; stroke: #93d741; stroke-width: 0.7; stroke-linejoin: round"/>
    <path d="M 323.27 96.06 L 332.64 101.73 L 337.20 95.28 L 327.90 89.68 z" clip-path="url(#p989c612ba4)" style="fill: #440154; stroke: #440154; stroke-width: 0.7; stroke-linejoin: round"/>
    <path d="M 311.33 71.05 L 323.27 96.06 L 327.90 89.68 L 316.06 68.61 z" clip-path="url(#p989c612ba4)" style="fill: #3f4889; stroke: #3f4889; stroke-width: 0.7; stroke-linejoin: round"/>
    <path d="M 345.84 89.55 L 354.07 87.42 L 358.47 81.07 L 350.33 81.35 z" clip-path="url(#p989c612ba4)" style="fill: #443a83; stroke: #443a83; stroke-width: 0.7; stroke-linejoin: round"/>
    <path d="M 294.86 56.45 L 311.33 71.05 L 316.06 68.61 L 299.74 50.37 z" clip-path="url(#p989c612ba4)" style="fill: #1fa188; stroke: #1fa188; stroke-width: 0.7; stroke-linejoin: round"/>
    <path d="M 332.64 101.73 L 341.33 95.99 L 345.84 89.55 L 337.20 95.28 z" clip-path="url(#p989c612ba4)" style="fill: #440154; stroke: #440154; stroke-width: 0.7; stroke-linejoin: round"/>
    <path d="M 354.07 87.42 L 360.96 86.89 L 365.16 86.16 L 358.47 81.07 z" clip-path="url(#p989c612ba4)" style="fill: #424086; stroke: #424086; stroke-width: 0.7; stroke-linejoin: round"/>
    <path d="M 360.96 86.89 L 366.36 91.77 L 370.67 85.36 L 365.16 86.16 z" clip-path="url(#p989c612ba4)" style="fill: #443a83; stroke: #443a83; stroke-width: 0.7; stroke-linejoin: round"/>
    <path d="M 261.31 37.02 L 289.89 61.67 L 294.86 56.45 L 266.55 34.91 z" clip-path="url(#p989c612ba4)" style="fill: #9dd93b; stroke: #9dd93b; stroke-width: 0.7; stroke-linejoin: round"/>
    <path d="M 318.64 91.23 L 328.04 104.52 L 332.64 101.73 L 323.27 96.06 z" clip-path="url(#p989c612ba4)" style="fill: #440154; stroke: #440154; stroke-width: 0.7; stroke-linejoin: round"/>
    <path d="M 341.33 95.99 L 349.60 93.88 L 354.07 87.42 L 345.84 89.55 z" clip-path="url(#p989c612ba4)" style="fill: #472a7a; stroke: #472a7a; stroke-width: 0.7; stroke-linejoin: round"/>
    <path d="M 306.51 73.54 L 318.64 91.23 L 323.27 96.06 L 311.33 71.05 z" clip-path="url(#p989c612ba4)" style="fill: #38598c; stroke: #38598c; stroke-width: 0.7; stroke-linejoin: round"/>
    <path d="M 289.89 61.67 L 306.51 73.54 L 311.33 71.05 L 294.86 56.45 z" clip-path="url(#p989c612ba4)" style="fill: #1fa187; stroke: #1fa187; stroke-width: 0.7; stroke-linejoin: round"/>
    <path d="M 328.04 104.52 L 336.78 98.75 L 341.33 95.99 L 332.64 101.73 z" clip-path="url(#p989c612ba4)" style="fill: #440154; stroke: #440154; stroke-width: 0.7; stroke-linejoin: round"/>
    <path d="M 349.60 93.88 L 356.48 95.27 L 360.96 86.89 L 354.07 87.42 z" clip-path="url(#p989c612ba4)" style="fill: #443a83; stroke: #443a83; stroke-width: 0.7; stroke-linejoin: round"/>
    <path d="M 356.48 95.27 L 362.07 94.48 L 366.36 91.77 L 360.96 86.89 z" clip-path="url(#p989c612ba4)" style="fill: #443a83; stroke: #443a83; stroke-width: 0.7; stroke-linejoin: round"/>
    <path d="M 255.96 39.66 L 284.84 66.99 L 289.89 61.67 L 261.31 37.02 z" clip-path="url(#p989c612ba4)" style="fill: #a2da37; stroke: #a2da37; stroke-width: 0.7; stroke-linejoin: round"/>
    <path d="M 336.78 98.75 L 345.05 100.44 L 349.60 93.88 L 341.33 95.99 z" clip-path="url(#p989c612ba4)" style="fill: #482475; stroke: #482475; stroke-width: 0.7; stroke-linejoin: round"/>
    <path d="M 284.84 66.99 L 301.58 76.09 L 306.51 73.54 L 289.89 61.67 z" clip-path="url(#p989c612ba4)" style="fill: #20a386; stroke: #20a386; stroke-width: 0.7; stroke-linejoin: round"/>
    <path d="M 313.88 84.34 L 323.41 99.75 L 328.04 104.52 L 318.64 91.23 z" clip-path="url(#p989c612ba4)" style="fill: #443a83; stroke: #443a83; stroke-width: 0.7; stroke-linejoin: round"/>
    <path d="M 345.05 100.44 L 352.06 98.04 L 356.48 95.27 L 349.60 93.88 z" clip-path="url(#p989c612ba4)" style="fill: #46307e; stroke: #46307e; stroke-width: 0.7; stroke-linejoin: round"/>
    <path d="M 301.58 76.09 L 313.88 84.34 L 318.64 91.23 L 306.51 73.54 z" clip-path="url(#p989c612ba4)" style="fill: #2a788e; stroke: #2a788e; stroke-width: 0.7; stroke-linejoin: round"/>
    <path d="M 323.41 99.75 L 332.15 101.56 L 336.78 98.75 L 328.04 104.52 z" clip-path="url(#p989c612ba4)" style="fill: #481d6f; stroke: #481d6f; stroke-width: 0.7; stroke-linejoin: round"/>
    <path d="M 352.06 98.04 L 357.69 97.25 L 362.07 94.48 L 356.48 95.27 z" clip-path="url(#p989c612ba4)" style="fill: #433d84; stroke: #433d84; stroke-width: 0.7; stroke-linejoin: round"/>
    <path d="M 250.48 41.38 L 279.71 73.37 L 284.84 66.99 L 255.96 39.66 z" clip-path="url(#p989c612ba4)" style="fill: #a5db36; stroke: #a5db36; stroke-width: 0.7; stroke-linejoin: round"/>
    <path d="M 332.15 101.56 L 340.49 103.28 L 345.05 100.44 L 336.78 98.75 z" clip-path="url(#p989c612ba4)" style="fill: #472a7a; stroke: #472a7a; stroke-width: 0.7; stroke-linejoin: round"/>
    <path d="M 279.71 73.37 L 296.56 80.63 L 301.58 76.09 L 284.84 66.99 z" clip-path="url(#p989c612ba4)" style="fill: #1fa287; stroke: #1fa287; stroke-width: 0.7; stroke-linejoin: round"/>
    <path d="M 340.49 103.28 L 347.55 100.87 L 352.06 98.04 L 345.05 100.44 z" clip-path="url(#p989c612ba4)" style="fill: #453781; stroke: #453781; stroke-width: 0.7; stroke-linejoin: round"/>
    <path d="M 296.56 80.63 L 308.97 87.03 L 313.88 84.34 L 301.58 76.09 z" clip-path="url(#p989c612ba4)" style="fill: #228b8d; stroke: #228b8d; stroke-width: 0.7; stroke-linejoin: round"/>
    <path d="M 308.97 87.03 L 318.61 102.59 L 323.41 99.75 L 313.88 84.34 z" clip-path="url(#p989c612ba4)" style="fill: #355e8d; stroke: #355e8d; stroke-width: 0.7; stroke-linejoin: round"/>
    <path d="M 318.61 102.59 L 327.38 108.29 L 332.15 101.56 L 323.41 99.75 z" clip-path="url(#p989c612ba4)" style="fill: #46307e; stroke: #46307e; stroke-width: 0.7; stroke-linejoin: round"/>
    <path d="M 245.42 62.37 L 274.49 79.87 L 279.71 73.37 L 250.48 41.38 z" clip-path="url(#p989c612ba4)" style="fill: #6ccd5a; stroke: #6ccd5a; stroke-width: 0.7; stroke-linejoin: round"/>
    <path d="M 347.55 100.87 L 353.10 105.89 L 357.69 97.25 L 352.06 98.04 z" clip-path="url(#p989c612ba4)" style="fill: #424086; stroke: #424086; stroke-width: 0.7; stroke-linejoin: round"/>
    <path d="M 327.38 108.29 L 335.83 106.18 L 340.49 103.28 L 332.15 101.56 z" clip-path="url(#p989c612ba4)" style="fill: #46307e; stroke: #46307e; stroke-width: 0.7; stroke-linejoin: round"/>
    <path d="M 274.49 79.87 L 291.46 87.22 L 296.56 80.63 L 279.71 73.37 z" clip-path="url(#p989c612ba4)" style="fill: #1e9c89; stroke: #1e9c89; stroke-width: 0.7; stroke-linejoin: round"/>
    <path d="M 335.83 106.18 L 342.88 107.65 L 347.55 100.87 L 340.49 103.28 z" clip-path="url(#p989c612ba4)" style="fill: #433d84; stroke: #433d84; stroke-width: 0.7; stroke-linejoin: round"/>
    <path d="M 239.51 55.91 L 269.18 86.48 L 274.49 79.87 L 245.42 62.37 z" clip-path="url(#p989c612ba4)" style="fill: #52c569; stroke: #52c569; stroke-width: 0.7; stroke-linejoin: round"/>
    <path d="M 291.46 87.22 L 303.95 91.74 L 308.97 87.03 L 296.56 80.63 z" clip-path="url(#p989c612ba4)" style="fill: #228b8d; stroke: #228b8d; stroke-width: 0.7; stroke-linejoin: round"/>
    <path d="M 342.88 107.65 L 348.54 108.83 L 353.10 105.89 L 347.55 100.87 z" clip-path="url(#p989c612ba4)" style="fill: #433d84; stroke: #433d84; stroke-width: 0.7; stroke-linejoin: round"/>
    <path d="M 303.95 91.74 L 313.71 103.55 L 318.61 102.59 L 308.97 87.03 z" clip-path="url(#p989c612ba4)" style="fill: #31688e; stroke: #31688e; stroke-width: 0.7; stroke-linejoin: round"/>
    <path d="M 313.71 103.55 L 322.56 111.26 L 327.38 108.29 L 318.61 102.59 z" clip-path="url(#p989c612ba4)" style="fill: #443a83; stroke: #443a83; stroke-width: 0.7; stroke-linejoin: round"/>
    <path d="M 269.18 86.48 L 286.28 95.90 L 291.46 87.22 L 274.49 79.87 z" clip-path="url(#p989c612ba4)" style="fill: #21908d; stroke: #21908d; stroke-width: 0.7; stroke-linejoin: round"/>
    <path d="M 322.56 111.26 L 331.02 113.05 L 335.83 106.18 L 327.38 108.29 z" clip-path="url(#p989c612ba4)" style="fill: #46307e; stroke: #46307e; stroke-width: 0.7; stroke-linejoin: round"/>
    <path d="M 234.50 82.20 L 263.81 95.17 L 269.18 86.48 L 239.51 55.91 z" clip-path="url(#p989c612ba4)" style="fill: #2eb37c; stroke: #2eb37c; stroke-width: 0.7; stroke-linejoin: round"/>
    <path d="M 331.02 113.05 L 338.15 112.59 L 342.88 107.65 L 335.83 106.18 z" clip-path="url(#p989c612ba4)" style="fill: #443a83; stroke: #443a83; stroke-width: 0.7; stroke-linejoin: round"/>
    <path d="M 286.28 95.90 L 298.85 98.51 L 303.95 91.74 L 291.46 87.22 z" clip-path="url(#p989c612ba4)" style="fill: #26828e; stroke: #26828e; stroke-width: 0.7; stroke-linejoin: round"/>
    <path d="M 338.15 112.59 L 343.79 117.71 L 348.54 108.83 L 342.88 107.65 z" clip-path="url(#p989c612ba4)" style="fill: #453781; stroke: #453781; stroke-width: 0.7; stroke-linejoin: round"/>
    <path d="M 298.85 98.51 L 308.70 110.42 L 313.71 103.55 L 303.95 91.74 z" clip-path="url(#p989c612ba4)" style="fill: #31688e; stroke: #31688e; stroke-width: 0.7; stroke-linejoin: round"/>
    <path d="M 308.70 110.42 L 317.62 118.20 L 322.56 111.26 L 313.71 103.55 z" clip-path="url(#p989c612ba4)" style="fill: #433d84; stroke: #433d84; stroke-width: 0.7; stroke-linejoin: round"/>
    <path d="M 263.81 95.17 L 281.05 106.68 L 286.28 95.90 L 269.18 86.48 z" clip-path="url(#p989c612ba4)" style="fill: #287d8e; stroke: #287d8e; stroke-width: 0.7; stroke-linejoin: round"/>
    <path d="M 317.62 118.20 L 326.19 114.13 L 331.02 113.05 L 322.56 111.26 z" clip-path="url(#p989c612ba4)" style="fill: #463480; stroke: #463480; stroke-width: 0.7; stroke-linejoin: round"/>
    <path d="M 281.05 106.68 L 293.66 107.39 L 298.85 98.51 L 286.28 95.90 z" clip-path="url(#p989c612ba4)" style="fill: #2e6f8e; stroke: #2e6f8e; stroke-width: 0.7; stroke-linejoin: round"/>
    <path d="M 326.19 114.13 L 333.26 123.53 L 338.15 112.59 L 331.02 113.05 z" clip-path="url(#p989c612ba4)" style="fill: #463480; stroke: #463480; stroke-width: 0.7; stroke-linejoin: round"/>
    <path d="M 293.66 107.39 L 303.60 122.33 L 308.70 110.42 L 298.85 98.51 z" clip-path="url(#p989c612ba4)" style="fill: #3a548c; stroke: #3a548c; stroke-width: 0.7; stroke-linejoin: round"/>
    <path d="M 333.26 123.53 L 339.09 118.86 L 343.79 117.71 L 338.15 112.59 z" clip-path="url(#p989c612ba4)" style="fill: #472e7c; stroke: #472e7c; stroke-width: 0.7; stroke-linejoin: round"/>
    <path d="M 303.60 122.33 L 312.60 119.36 L 317.62 118.20 L 308.70 110.42 z" clip-path="url(#p989c612ba4)" style="fill: #46337f; stroke: #46337f; stroke-width: 0.7; stroke-linejoin: round"/>
    <path d="M 312.60 119.36 L 321.13 131.08 L 326.19 114.13 L 317.62 118.20 z" clip-path="url(#p989c612ba4)" style="fill: #472a7a; stroke: #472a7a; stroke-width: 0.7; stroke-linejoin: round"/>
    <path d="M 321.13 131.08 L 328.40 124.75 L 333.26 123.53 L 326.19 114.13 z" clip-path="url(#p989c612ba4)" style="fill: #482475; stroke: #482475; stroke-width: 0.7; stroke-linejoin: round"/>
    <path d="M 328.40 124.75 L 334.04 137.87 L 339.09 118.86 L 333.26 123.53 z" clip-path="url(#p989c612ba4)" style="fill: #481b6d; stroke: #481b6d; stroke-width: 0.7; stroke-linejoin: round"/>
   </g>
  </g>
  <g id="patch_10">
   <path d="M -12.94 361.71 L 176.73 361.71 L 176.73 172.03 L -12.94 172.03 z" style="fill: #ffffff"/>
  </g>
  <g id="pane3d_7">
   <g id="patch_11">
    <path d="M 2.76 318.66 L 57.38 270.92 L 56.41 192.35 L -0.46 233.93 
" style="fill: #f6f6f6; stroke: #f6f6f6; stroke-linejoin: miter"/>
   </g>
  </g>
  <g id="pane3d_8">
   <g id="patch_12">
    <path d="M 57.38 270.92 L 162.06 292.07 L 164.97 210.74 L 56.41 192.35 
" style="fill: #f1f1f1; stroke: #f1f1f1; stroke-linejoin: miter"/>
   </g>
  </g>
  <g id="pane3d_9">
   <g id="patch_13">
    <path d="M 2.76 318.66 L 115.62 344.29 L 162.06 292.07 L 57.38 270.92 
" style="fill: #f3f3f3; stroke: #f3f3f3; stroke-linejoin: miter"/>
   </g>
  </g>
  <g id="grid3d_7">
   <g id="Line3DCollection_7">
    <path d="M 10.33 320.38 L 64.43 272.34 L 63.71 193.59 
" style="fill: none; stroke: #dbdbdb; stroke-width: 0.4"/>
    <path d="M 24.63 323.62 L 77.74 275.03 L 77.50 195.92 
" style="fill: none; stroke: #dbdbdb; stroke-width: 0.4"/>
    <path d="M 39.10 326.91 L 91.19 277.75 L 91.44 198.28 
" style="fill: none; stroke: #dbdbdb; stroke-width: 0.4"/>
    <path d="M 53.75 330.24 L 104.80 280.50 L 105.54 200.67 
" style="fill: none; stroke: #dbdbdb; stroke-width: 0.4"/>
    <path d="M 68.59 333.61 L 118.55 283.28 L 119.81 203.09 
" style="fill: none; stroke: #dbdbdb; stroke-width: 0.4"/>
    <path d="M 83.61 337.02 L 132.46 286.09 L 134.24 205.53 
" style="fill: none; stroke: #dbdbdb; stroke-width: 0.4"/>
    <path d="M 98.81 340.47 L 146.53 288.93 L 148.85 208.00 
" style="fill: none; stroke: #dbdbdb; stroke-width: 0.4"/>
    <path d="M 114.21 343.97 L 160.77 291.80 L 163.62 210.51 
" style="fill: none; stroke: #dbdbdb; stroke-width: 0.4"/>
   </g>
  </g>
  <g id="grid3d_8">
   <g id="Line3DCollection_8">
    <path d="M 6.40 228.91 L 9.33 312.91" style="fill: none; stroke: #d4d4d4; stroke-width: 0.4"/><path d="M 9.33 312.91 L 121.23 337.98" style="fill: none; stroke-dasharray: 2.4,2; stroke-dashoffset: 0; stroke: #c2c2c2; stroke-width: 0.4"/>
    <path d="M 15.81 222.03 L 18.36 305.03" style="fill: none; stroke: #d4d4d4; stroke-width: 0.4"/><path d="M 18.36 305.03 L 128.92 329.33" style="fill: none; stroke-dasharray: 2.4,2; stroke-dashoffset: 0; stroke: #c2c2c2; stroke-width: 0.4"/>
    <path d="M 24.94 215.36 L 27.11 297.37" style="fill: none; stroke: #d4d4d4; stroke-width: 0.4"/><path d="M 27.11 297.37 L 136.37 320.95" style="fill: none; stroke-dasharray: 2.4,2; stroke-dashoffset: 0; stroke: #c2c2c2; stroke-width: 0.4"/>
    <path d="M 33.79 208.89 L 35.62 289.94" style="fill: none; stroke: #d4d4d4; stroke-width: 0.4"/><path d="M 35.62 289.94 L 143.60 312.82" style="fill: none; stroke-dasharray: 2.4,2; stroke-dashoffset: 0; stroke: #c2c2c2; stroke-width: 0.4"/>
    <path d="M 42.38 202.61 L 43.87 282.72" style="fill: none; stroke: #d4d4d4; stroke-width: 0.4"/><path d="M 43.87 282.72 L 150.61 304.94" style="fill: none; stroke-dasharray: 2.4,2; stroke-dashoffset: 0; stroke: #c2c2c2; stroke-width: 0.4"/>
    <path d="M 50.72 196.51 L 51.90 275.71" style="fill: none; stroke: #d4d4d4; stroke-width: 0.4"/><path d="M 51.90 275.71 L 157.42 297.29" style="fill: none; stroke-dasharray: 2.4,2; stroke-dashoffset: 0; stroke: #c2c2c2; stroke-width: 0.4"/>
   </g>
  </g>
  <g id="grid3d_9">
   <g id="Line3DCollection_9">
    <path d="M 162.09 291.31 L 57.37 270.18 L 2.73 317.87 
" style="fill: none; stroke-dasharray: 2.4,2; stroke-dashoffset: 0; stroke: #c2c2c2; stroke-width: 0.4"/>
    <path d="M 162.39 282.85 L 57.27 262.00 L 2.39 309.07 
" style="fill: none; stroke-dasharray: 2.4,2; stroke-dashoffset: 0; stroke: #c2c2c2; stroke-width: 0.4"/>
    <path d="M 162.70 274.32 L 57.17 253.76 L 2.06 300.20 
" style="fill: none; stroke-dasharray: 2.4,2; stroke-dashoffset: 0; stroke: #c2c2c2; stroke-width: 0.4"/>
    <path d="M 163.01 265.73 L 57.07 245.45 L 1.71 291.26 
" style="fill: none; stroke-dasharray: 2.4,2; stroke-dashoffset: 0; stroke: #c2c2c2; stroke-width: 0.4"/>
    <path d="M 163.32 257.07 L 56.97 237.08 L 1.37 282.24 
" style="fill: none; stroke-dasharray: 2.4,2; stroke-dashoffset: 0; stroke: #c2c2c2; stroke-width: 0.4"/>
    <path d="M 163.63 248.34 L 56.86 228.65 L 1.02 273.15 
" style="fill: none; stroke-dasharray: 2.4,2; stroke-dashoffset: 0; stroke: #c2c2c2; stroke-width: 0.4"/>
    <path d="M 163.94 239.55 L 56.76 220.15 L 0.68 263.98 
" style="fill: none; stroke-dasharray: 2.4,2; stroke-dashoffset: 0; stroke: #c2c2c2; stroke-width: 0.4"/>
    <path d="M 164.26 230.68 L 56.65 211.59 L 0.32 254.74 
" style="fill: none; stroke-dasharray: 2.4,2; stroke-dashoffset: 0; stroke: #c2c2c2; stroke-width: 0.4"/>
    <path d="M 164.58 221.74 L 56.54 202.96 L -0.02 245.42 
" style="fill: none; stroke-dasharray: 2.4,2; stroke-dashoffset: 0; stroke: #c2c2c2; stroke-width: 0.4"/>
    <path d="M 164.90 212.73 L 56.44 194.27 L -0.38 236.01 
" style="fill: none; stroke-dasharray: 2.4,2; stroke-dashoffset: 0; stroke: #c2c2c2; stroke-width: 0.4"/>
   </g>
  </g>
  <g id="axis3d_7">
   <g id="line2d_50">
    <path d="M 2.76 318.66 L 115.62 344.29 
" style="fill: none; stroke: #cccccc; stroke-width: 0.4; stroke-linecap: square"/>
   </g>
   <g id="xtick_44">
    <g id="line2d_51">
     <path d="M 13.17 317.86 L 10.33 320.38 
" style="fill: none"/>
    </g>
   </g>
   <g id="xtick_45">
    <g id="line2d_52">
     <path d="M 27.42 321.07 L 24.63 323.62 
" style="fill: none"/>
    </g>
   </g>
   <g id="xtick_46">
    <g id="line2d_53">
     <path d="M 41.84 324.33 L 39.10 326.91 
" style="fill: none"/>
    </g>
   </g>
   <g id="xtick_47">
    <g id="line2d_54">
     <path d="M 56.44 327.62 L 53.75 330.24 
" style="fill: none"/>
    </g>
   </g>
   <g id="xtick_48">
    <g id="line2d_55">
     <path d="M 71.22 330.96 L 68.59 333.61 
" style="fill: none"/>
    </g>
   </g>
   <g id="xtick_49">
    <g id="line2d_56">
     <path d="M 86.18 334.34 L 83.61 337.02 
" style="fill: none"/>
    </g>
   </g>
   <g id="xtick_50">
    <g id="line2d_57">
     <path d="M 101.33 337.76 L 98.81 340.47 
" style="fill: none"/>
    </g>
   </g>
   <g id="xtick_51">
    <g id="line2d_58">
     <path d="M 116.66 341.22 L 114.21 343.97 
" style="fill: none"/>
    </g>
   </g>
  </g>
  <g id="axis3d_8">
   <g id="line2d_59">
    <path d="M 162.06 292.07 L 115.62 344.29 
" style="fill: none; stroke: #cccccc; stroke-width: 0.4; stroke-linecap: square"/>
   </g>
   <g id="xtick_52">
    <g id="line2d_60">
     <path d="M 115.61 336.72 L 121.23 337.98 
" style="fill: none"/>
    </g>
   </g>
   <g id="xtick_53">
    <g id="line2d_61">
     <path d="M 123.38 328.11 L 128.92 329.33 
" style="fill: none"/>
    </g>
   </g>
   <g id="xtick_54">
    <g id="line2d_62">
     <path d="M 130.90 319.77 L 136.37 320.95 
" style="fill: none"/>
    </g>
   </g>
   <g id="xtick_55">
    <g id="line2d_63">
     <path d="M 138.20 311.68 L 143.60 312.82 
" style="fill: none"/>
    </g>
   </g>
   <g id="xtick_56">
    <g id="line2d_64">
     <path d="M 145.27 303.83 L 150.61 304.94 
" style="fill: none"/>
    </g>
   </g>
   <g id="xtick_57">
    <g id="line2d_65">
     <path d="M 152.14 296.21 L 157.42 297.29 
" style="fill: none"/>
    </g>
   </g>
  </g>
  <g id="axis3d_9">
   <g id="line2d_66">
    <path d="M 162.06 292.07 L 164.97 210.74 
" style="fill: none; stroke: #cccccc; stroke-width: 0.4; stroke-linecap: square"/>
   </g>
   <g id="xtick_58">
    <g id="line2d_67">
     <path d="M 156.86 290.25 L 162.09 291.31 
" style="fill: none"/>
    </g>
   </g>
   <g id="xtick_59">
    <g id="line2d_68">
     <path d="M 157.14 281.81 L 162.39 282.85 
" style="fill: none"/>
    </g>
   </g>
   <g id="xtick_60">
    <g id="line2d_69">
     <path d="M 157.42 273.30 L 162.70 274.32 
" style="fill: none"/>
    </g>
   </g>
   <g id="xtick_61">
    <g id="line2d_70">
     <path d="M 157.71 264.72 L 163.01 265.73 
" style="fill: none"/>
    </g>
   </g>
   <g id="xtick_62">
    <g id="line2d_71">
     <path d="M 158.00 256.07 L 163.32 257.07 
" style="fill: none"/>
    </g>
   </g>
   <g id="xtick_63">
    <g id="line2d_72">
     <path d="M 158.29 247.36 L 163.63 248.34 
" style="fill: none"/>
    </g>
   </g>
   <g id="xtick_64">
    <g id="line2d_73">
     <path d="M 158.58 238.58 L 163.94 239.55 
" style="fill: none"/>
    </g>
   </g>
   <g id="xtick_65">
    <g id="line2d_74">
     <path d="M 158.87 229.72 L 164.26 230.68 
" style="fill: none"/>
    </g>
   </g>
   <g id="xtick_66">
    <g id="line2d_75">
     <path d="M 159.17 220.80 L 164.58 221.74 
" style="fill: none"/>
    </g>
   </g>
   <g id="xtick_67">
    <g id="line2d_76">
     <path d="M 159.47 211.80 L 164.90 212.73 
" style="fill: none"/>
    </g>
   </g>
  </g>
  <g id="axes_3">
   <g transform="scale(0.72)"><path d="M124.48 302.13 L124.87 306.34 L125.77 310.4 L126.88 314.36 L128.18 318.23 L129.63 321.99 L131.25 325.67 L133.03 329.24 L134.97 332.72 L137.06 336.1 L139.3 339.39 L141.7 342.57 L144.25 345.65 L146.95 348.63 L149.81 351.51 L152.81 354.28 L155.96 356.96 L159.26 359.52 L162.7 361.98 L166.29 364.34 L170.02 366.59 L173.9 368.74 L177.92 370.78 L182.03 372.69 L178.14 378.08 L196.6 377.5 L188.86 360.72 L184.97 366.11 L180.91 364.38 L177.05 362.57 L173.32 360.66 L169.73 358.66 L166.28 356.56 L162.95 354.37 L159.77 352.08 L156.71 349.7 L153.78 347.21 L150.99 344.63 L148.33 341.95 L145.79 339.18 L143.38 336.3 L141.1 333.32 L138.94 330.23 L136.91 327.05 L135 323.76 L133.21 320.36 L131.54 316.86 L129.98 313.25 L128.53 309.54 L127.14 305.73 L125.52 301.87 Z" fill="#f6e0e0" stroke="#d9a3a3" stroke-width="1.1" stroke-linejoin="miter"/></g><g id="Poly3DCollection_3">
    <path d="M 83.21 250.63 L 99.31 267.48 L 103.85 263.21 L 87.90 246.52 z" clip-path="url(#p407dfe2219)" style="fill: #228d8d; stroke: #228d8d; stroke-width: 0.7; stroke-linejoin: round"/>
    <path d="M 99.31 267.48 L 111.10 276.66 L 115.55 272.30 L 103.85 263.21 z" clip-path="url(#p407dfe2219)" style="fill: #355f8d; stroke: #355f8d; stroke-width: 0.7; stroke-linejoin: round"/>
    <path d="M 111.10 276.66 L 120.32 282.78 L 124.69 278.36 L 115.55 272.30 z" clip-path="url(#p407dfe2219)" style="fill: #424186; stroke: #424186; stroke-width: 0.7; stroke-linejoin: round"/>
    <path d="M 55.15 201.92 L 83.21 250.63 L 87.90 246.52 L 60.13 198.20 z" clip-path="url(#p407dfe2219)" style="fill: #fde725; stroke: #fde725; stroke-width: 0.7; stroke-linejoin: round"/>
    <path d="M 120.32 282.78 L 128.70 287.46 L 133.01 282.99 L 124.69 278.36 z" clip-path="url(#p407dfe2219)" style="fill: #472d7b; stroke: #472d7b; stroke-width: 0.7; stroke-linejoin: round"/>
    <path d="M 128.70 287.46 L 136.68 291.65 L 140.93 287.14 L 133.01 282.99 z" clip-path="url(#p407dfe2219)" style="fill: #481c6e; stroke: #481c6e; stroke-width: 0.7; stroke-linejoin: round"/>
    <path d="M 136.68 291.65 L 143.37 294.73 L 147.57 290.18 L 140.93 287.14 z" clip-path="url(#p407dfe2219)" style="fill: #470e61; stroke: #470e61; stroke-width: 0.7; stroke-linejoin: round"/>
    <path d="M 78.44 254.82 L 94.68 271.83 L 99.31 267.48 L 83.21 250.63 z" clip-path="url(#p407dfe2219)" style="fill: #228d8d; stroke: #228d8d; stroke-width: 0.7; stroke-linejoin: round"/>
    <path d="M 94.68 271.83 L 106.57 281.09 L 111.10 276.66 L 99.31 267.48 z" clip-path="url(#p407dfe2219)" style="fill: #355f8d; stroke: #355f8d; stroke-width: 0.7; stroke-linejoin: round"/>
    <path d="M 143.37 294.73 L 148.75 297.11 L 152.90 292.53 L 147.57 290.18 z" clip-path="url(#p407dfe2219)" style="fill: #450457; stroke: #450457; stroke-width: 0.7; stroke-linejoin: round"/>
    <path d="M 106.57 281.09 L 115.86 287.28 L 120.32 282.78 L 111.10 276.66 z" clip-path="url(#p407dfe2219)" style="fill: #424186; stroke: #424186; stroke-width: 0.7; stroke-linejoin: round"/>
    <path d="M 50.09 205.70 L 78.44 254.82 L 83.21 250.63 L 55.15 201.92 z" clip-path="url(#p407dfe2219)" style="fill: #fde725; stroke: #fde725; stroke-width: 0.7; stroke-linejoin: round"/>
    <path d="M 115.86 287.28 L 124.31 292.01 L 128.70 287.46 L 120.32 282.78 z" clip-path="url(#p407dfe2219)" style="fill: #472d7b; stroke: #472d7b; stroke-width: 0.7; stroke-linejoin: round"/>
    <path d="M 124.31 292.01 L 132.36 296.25 L 136.68 291.65 L 128.70 287.46 z" clip-path="url(#p407dfe2219)" style="fill: #481c6e; stroke: #481c6e; stroke-width: 0.7; stroke-linejoin: round"/>
    <path d="M 132.36 296.25 L 139.10 299.36 L 143.37 294.73 L 136.68 291.65 z" clip-path="url(#p407dfe2219)" style="fill: #470e61; stroke: #470e61; stroke-width: 0.7; stroke-linejoin: round"/>
    <path d="M 73.59 259.09 L 89.97 276.25 L 94.68 271.83 L 78.44 254.82 z" clip-path="url(#p407dfe2219)" style="fill: #228d8d; stroke: #228d8d; stroke-width: 0.7; stroke-linejoin: round"/>
    <path d="M 89.97 276.25 L 101.96 285.61 L 106.57 281.09 L 94.68 271.83 z" clip-path="url(#p407dfe2219)" style="fill: #355f8d; stroke: #355f8d; stroke-width: 0.7; stroke-linejoin: round"/>
    <path d="M 139.10 299.36 L 144.52 301.78 L 148.75 297.11 L 143.37 294.73 z" clip-path="url(#p407dfe2219)" style="fill: #450457; stroke: #450457; stroke-width: 0.7; stroke-linejoin: round"/>
    <path d="M 101.96 285.61 L 111.33 291.86 L 115.86 287.28 L 106.57 281.09 z" clip-path="url(#p407dfe2219)" style="fill: #424186; stroke: #424186; stroke-width: 0.7; stroke-linejoin: round"/>
    <path d="M 44.93 209.55 L 73.59 259.09 L 78.44 254.82 L 50.09 205.70 z" clip-path="url(#p407dfe2219)" style="fill: #fde725; stroke: #fde725; stroke-width: 0.7; stroke-linejoin: round"/>
    <path d="M 111.33 291.86 L 119.85 296.65 L 124.31 292.01 L 115.86 287.28 z" clip-path="url(#p407dfe2219)" style="fill: #472d7b; stroke: #472d7b; stroke-width: 0.7; stroke-linejoin: round"/>
    <path d="M 119.85 296.65 L 127.96 300.93 L 132.36 296.25 L 124.31 292.01 z" clip-path="url(#p407dfe2219)" style="fill: #481c6e; stroke: #481c6e; stroke-width: 0.7; stroke-linejoin: round"/>
    <path d="M 127.96 300.93 L 134.75 304.08 L 139.10 299.36 L 132.36 296.25 z" clip-path="url(#p407dfe2219)" style="fill: #470e61; stroke: #470e61; stroke-width: 0.7; stroke-linejoin: round"/>
    <path d="M 68.64 263.44 L 85.17 280.75 L 89.97 276.25 L 73.59 259.09 z" clip-path="url(#p407dfe2219)" style="fill: #228d8d; stroke: #228d8d; stroke-width: 0.7; stroke-linejoin: round"/>
    <path d="M 85.17 280.75 L 97.26 290.21 L 101.96 285.61 L 89.97 276.25 z" clip-path="url(#p407dfe2219)" style="fill: #355f8d; stroke: #355f8d; stroke-width: 0.7; stroke-linejoin: round"/>
    <path d="M 134.75 304.08 L 140.21 306.53 L 144.52 301.78 L 139.10 299.36 z" clip-path="url(#p407dfe2219)" style="fill: #450457; stroke: #450457; stroke-width: 0.7; stroke-linejoin: round"/>
    <path d="M 97.26 290.21 L 106.71 296.52 L 111.33 291.86 L 101.96 285.61 z" clip-path="url(#p407dfe2219)" style="fill: #424186; stroke: #424186; stroke-width: 0.7; stroke-linejoin: round"/>
    <path d="M 39.68 213.47 L 68.64 263.44 L 73.59 259.09 L 44.93 209.55 z" clip-path="url(#p407dfe2219)" style="fill: #fde725; stroke: #fde725; stroke-width: 0.7; stroke-linejoin: round"/>
    <path d="M 106.71 296.52 L 115.30 301.37 L 119.85 296.65 L 111.33 291.86 z" clip-path="url(#p407dfe2219)" style="fill: #472d7b; stroke: #472d7b; stroke-width: 0.7; stroke-linejoin: round"/>
    <path d="M 115.30 301.37 L 123.47 305.70 L 127.96 300.93 L 119.85 296.65 z" clip-path="url(#p407dfe2219)" style="fill: #481c6e; stroke: #481c6e; stroke-width: 0.7; stroke-linejoin: round"/>
    <path d="M 123.47 305.70 L 130.32 308.89 L 134.75 304.08 L 127.96 300.93 z" clip-path="url(#p407dfe2219)" style="fill: #470e61; stroke: #470e61; stroke-width: 0.7; stroke-linejoin: round"/>
    <path d="M 63.60 267.86 L 80.28 285.34 L 85.17 280.75 L 68.64 263.44 z" clip-path="url(#p407dfe2219)" style="fill: #228d8d; stroke: #228d8d; stroke-width: 0.7; stroke-linejoin: round"/>
    <path d="M 80.28 285.34 L 92.48 294.89 L 97.26 290.21 L 85.17 280.75 z" clip-path="url(#p407dfe2219)" style="fill: #355f8d; stroke: #355f8d; stroke-width: 0.7; stroke-linejoin: round"/>
    <path d="M 130.32 308.89 L 135.82 311.37 L 140.21 306.53 L 134.75 304.08 z" clip-path="url(#p407dfe2219)" style="fill: #450457; stroke: #450457; stroke-width: 0.7; stroke-linejoin: round"/>
    <path d="M 92.48 294.89 L 102.00 301.27 L 106.71 296.52 L 97.26 290.21 z" clip-path="url(#p407dfe2219)" style="fill: #424186; stroke: #424186; stroke-width: 0.7; stroke-linejoin: round"/>
    <path d="M 34.33 217.47 L 63.60 267.86 L 68.64 263.44 L 39.68 213.47 z" clip-path="url(#p407dfe2219)" style="fill: #fde725; stroke: #fde725; stroke-width: 0.7; stroke-linejoin: round"/>
    <path d="M 102.00 301.27 L 110.66 306.17 L 115.30 301.37 L 106.71 296.52 z" clip-path="url(#p407dfe2219)" style="fill: #472d7b; stroke: #472d7b; stroke-width: 0.7; stroke-linejoin: round"/>
    <path d="M 110.66 306.17 L 118.91 310.56 L 123.47 305.70 L 115.30 301.37 z" clip-path="url(#p407dfe2219)" style="fill: #481c6e; stroke: #481c6e; stroke-width: 0.7; stroke-linejoin: round"/>
    <path d="M 118.91 310.56 L 125.81 313.79 L 130.32 308.89 L 123.47 305.70 z" clip-path="url(#p407dfe2219)" style="fill: #470e61; stroke: #470e61; stroke-width: 0.7; stroke-linejoin: round"/>
    <path d="M 58.47 272.37 L 75.31 290.01 L 80.28 285.34 L 63.60 267.86 z" clip-path="url(#p407dfe2219)" style="fill: #228d8d; stroke: #228d8d; stroke-width: 0.7; stroke-linejoin: round"/>
    <path d="M 75.31 290.01 L 87.61 299.66 L 92.48 294.89 L 80.28 285.34 z" clip-path="url(#p407dfe2219)" style="fill: #355f8d; stroke: #355f8d; stroke-width: 0.7; stroke-linejoin: round"/>
    <path d="M 125.81 313.79 L 131.36 316.29 L 135.82 311.37 L 130.32 308.89 z" clip-path="url(#p407dfe2219)" style="fill: #450457; stroke: #450457; stroke-width: 0.7; stroke-linejoin: round"/>
    <path d="M 87.61 299.66 L 97.21 306.11 L 102.00 301.27 L 92.48 294.89 z" clip-path="url(#p407dfe2219)" style="fill: #424186; stroke: #424186; stroke-width: 0.7; stroke-linejoin: round"/>
    <path d="M 28.87 221.54 L 58.47 272.37 L 63.60 267.86 L 34.33 217.47 z" clip-path="url(#p407dfe2219)" style="fill: #fde725; stroke: #fde725; stroke-width: 0.7; stroke-linejoin: round"/>
    <path d="M 97.21 306.11 L 105.94 311.07 L 110.66 306.17 L 102.00 301.27 z" clip-path="url(#p407dfe2219)" style="fill: #472d7b; stroke: #472d7b; stroke-width: 0.7; stroke-linejoin: round"/>
    <path d="M 105.94 311.07 L 114.25 315.51 L 118.91 310.56 L 110.66 306.17 z" clip-path="url(#p407dfe2219)" style="fill: #481c6e; stroke: #481c6e; stroke-width: 0.7; stroke-linejoin: round"/>
    <path d="M 114.25 315.51 L 121.21 318.78 L 125.81 313.79 L 118.91 310.56 z" clip-path="url(#p407dfe2219)" style="fill: #470e61; stroke: #470e61; stroke-width: 0.7; stroke-linejoin: round"/>
    <path d="M 53.24 276.96 L 70.23 294.78 L 75.31 290.01 L 58.47 272.37 z" clip-path="url(#p407dfe2219)" style="fill: #228d8d; stroke: #228d8d; stroke-width: 0.7; stroke-linejoin: round"/>
    <path d="M 70.23 294.78 L 82.64 304.52 L 87.61 299.66 L 75.31 290.01 z" clip-path="url(#p407dfe2219)" style="fill: #355f8d; stroke: #355f8d; stroke-width: 0.7; stroke-linejoin: round"/>
    <path d="M 121.21 318.78 L 126.80 321.32 L 131.36 316.29 L 125.81 313.79 z" clip-path="url(#p407dfe2219)" style="fill: #450457; stroke: #450457; stroke-width: 0.7; stroke-linejoin: round"/>
    <path d="M 82.64 304.52 L 92.33 311.05 L 97.21 306.11 L 87.61 299.66 z" clip-path="url(#p407dfe2219)" style="fill: #424186; stroke: #424186; stroke-width: 0.7; stroke-linejoin: round"/>
    <path d="M 23.32 225.68 L 53.24 276.96 L 58.47 272.37 L 28.87 221.54 z" clip-path="url(#p407dfe2219)" style="fill: #fde725; stroke: #fde725; stroke-width: 0.7; stroke-linejoin: round"/>
    <path d="M 92.33 311.05 L 101.13 316.06 L 105.94 311.07 L 97.21 306.11 z" clip-path="url(#p407dfe2219)" style="fill: #472d7b; stroke: #472d7b; stroke-width: 0.7; stroke-linejoin: round"/>
    <path d="M 101.13 316.06 L 109.51 320.55 L 114.25 315.51 L 105.94 311.07 z" clip-path="url(#p407dfe2219)" style="fill: #481c6e; stroke: #481c6e; stroke-width: 0.7; stroke-linejoin: round"/>
    <path d="M 109.51 320.55 L 116.53 323.86 L 121.21 318.78 L 114.25 315.51 z" clip-path="url(#p407dfe2219)" style="fill: #470e61; stroke: #470e61; stroke-width: 0.7; stroke-linejoin: round"/>
    <path d="M 47.91 281.64 L 65.06 299.63 L 70.23 294.78 L 53.24 276.96 z" clip-path="url(#p407dfe2219)" style="fill: #228d8d; stroke: #228d8d; stroke-width: 0.7; stroke-linejoin: round"/>
    <path d="M 65.06 299.63 L 77.58 309.48 L 82.64 304.52 L 70.23 294.78 z" clip-path="url(#p407dfe2219)" style="fill: #355f8d; stroke: #355f8d; stroke-width: 0.7; stroke-linejoin: round"/>
    <path d="M 116.53 323.86 L 122.16 326.44 L 126.80 321.32 L 121.21 318.78 z" clip-path="url(#p407dfe2219)" style="fill: #450457; stroke: #450457; stroke-width: 0.7; stroke-linejoin: round"/>
    <path d="M 77.58 309.48 L 87.35 316.07 L 92.33 311.05 L 82.64 304.52 z" clip-path="url(#p407dfe2219)" style="fill: #424186; stroke: #424186; stroke-width: 0.7; stroke-linejoin: round"/>
    <path d="M 17.66 229.91 L 47.91 281.64 L 53.24 276.96 L 23.32 225.68 z" clip-path="url(#p407dfe2219)" style="fill: #fde725; stroke: #fde725; stroke-width: 0.7; stroke-linejoin: round"/>
    <path d="M 87.35 316.07 L 96.23 321.15 L 101.13 316.06 L 92.33 311.05 z" clip-path="url(#p407dfe2219)" style="fill: #472d7b; stroke: #472d7b; stroke-width: 0.7; stroke-linejoin: round"/>
    <path d="M 96.23 321.15 L 104.67 325.69 L 109.51 320.55 L 101.13 316.06 z" clip-path="url(#p407dfe2219)" style="fill: #481c6e; stroke: #481c6e; stroke-width: 0.7; stroke-linejoin: round"/>
    <path d="M 104.67 325.69 L 111.75 329.05 L 116.53 323.86 L 109.51 320.55 z" clip-path="url(#p407dfe2219)" style="fill: #470e61; stroke: #470e61; stroke-width: 0.7; stroke-linejoin: round"/>
    <path d="M 42.48 286.41 L 59.79 304.58 L 65.06 299.63 L 47.91 281.64 z" clip-path="url(#p407dfe2219)" style="fill: #228d8d; stroke: #228d8d; stroke-width: 0.7; stroke-linejoin: round"/>
    <path d="M 59.79 304.58 L 72.42 314.53 L 77.58 309.48 L 65.06 299.63 z" clip-path="url(#p407dfe2219)" style="fill: #355f8d; stroke: #355f8d; stroke-width: 0.7; stroke-linejoin: round"/>
    <path d="M 111.75 329.05 L 117.43 331.65 L 122.16 326.44 L 116.53 323.86 z" clip-path="url(#p407dfe2219)" style="fill: #450457; stroke: #450457; stroke-width: 0.7; stroke-linejoin: round"/>
    <path d="M 72.42 314.53 L 82.28 321.20 L 87.35 316.07 L 77.58 309.48 z" clip-path="url(#p407dfe2219)" style="fill: #424186; stroke: #424186; stroke-width: 0.7; stroke-linejoin: round"/>
    <path d="M 11.88 234.22 L 42.48 286.41 L 47.91 281.64 L 17.66 229.91 z" clip-path="url(#p407dfe2219)" style="fill: #fde725; stroke: #fde725; stroke-width: 0.7; stroke-linejoin: round"/>
    <path d="M 82.28 321.20 L 91.23 326.33 L 96.23 321.15 L 87.35 316.07 z" clip-path="url(#p407dfe2219)" style="fill: #472d7b; stroke: #472d7b; stroke-width: 0.7; stroke-linejoin: round"/>
    <path d="M 91.23 326.33 L 99.75 330.93 L 104.67 325.69 L 96.23 321.15 z" clip-path="url(#p407dfe2219)" style="fill: #481c6e; stroke: #481c6e; stroke-width: 0.7; stroke-linejoin: round"/>
    <path d="M 99.75 330.93 L 106.88 334.33 L 111.75 329.05 L 104.67 325.69 z" clip-path="url(#p407dfe2219)" style="fill: #470e61; stroke: #470e61; stroke-width: 0.7; stroke-linejoin: round"/>
    <path d="M 106.88 334.33 L 112.61 336.97 L 117.43 331.65 L 111.75 329.05 z" clip-path="url(#p407dfe2219)" style="fill: #450457; stroke: #450457; stroke-width: 0.7; stroke-linejoin: round"/>
   </g>
  </g>
  <g id="patch_14">
   <path d="M 210.18 361.71 L 399.85 361.71 L 399.85 172.03 L 210.18 172.03 z" style="fill: #ffffff"/>
  </g>
  <g id="pane3d_10">
   <g id="patch_15">
    <path d="M 225.89 318.66 L 280.51 270.92 L 279.54 192.35 L 222.66 233.93 
" style="fill: #f6f6f6; stroke: #f6f6f6; stroke-linejoin: miter"/>
   </g>
  </g>
  <g id="pane3d_11">
   <g id="patch_16">
    <path d="M 280.51 270.92 L 385.19 292.07 L 388.10 210.74 L 279.54 192.35 
" style="fill: #f1f1f1; stroke: #f1f1f1; stroke-linejoin: miter"/>
   </g>
  </g>
  <g id="pane3d_12">
   <g id="patch_17">
    <path d="M 225.89 318.66 L 338.74 344.29 L 385.19 292.07 L 280.51 270.92 
" style="fill: #f3f3f3; stroke: #f3f3f3; stroke-linejoin: miter"/>
   </g>
  </g>
  <g id="grid3d_10">
   <g id="Line3DCollection_10">
    <path d="M 233.46 320.38 L 287.56 272.34 L 286.84 193.59 
" style="fill: none; stroke: #dbdbdb; stroke-width: 0.4"/>
    <path d="M 247.76 323.62 L 300.87 275.03 L 300.62 195.92 
" style="fill: none; stroke: #dbdbdb; stroke-width: 0.4"/>
    <path d="M 262.23 326.91 L 314.32 277.75 L 314.57 198.28 
" style="fill: none; stroke: #dbdbdb; stroke-width: 0.4"/>
    <path d="M 276.88 330.24 L 327.92 280.50 L 328.67 200.67 
" style="fill: none; stroke: #dbdbdb; stroke-width: 0.4"/>
    <path d="M 291.72 333.61 L 341.68 283.28 L 342.93 203.09 
" style="fill: none; stroke: #dbdbdb; stroke-width: 0.4"/>
    <path d="M 306.73 337.02 L 355.59 286.09 L 357.37 205.53 
" style="fill: none; stroke: #dbdbdb; stroke-width: 0.4"/>
    <path d="M 321.94 340.47 L 369.66 288.93 L 371.97 208.00 
" style="fill: none; stroke: #dbdbdb; stroke-width: 0.4"/>
    <path d="M 337.34 343.97 L 383.89 291.80 L 386.75 210.51 
" style="fill: none; stroke: #dbdbdb; stroke-width: 0.4"/>
   </g>
  </g>
  <g id="grid3d_11">
   <g id="Line3DCollection_11">
    <path d="M 229.53 228.91 L 232.46 312.91" style="fill: none; stroke: #d4d4d4; stroke-width: 0.4"/><path d="M 232.46 312.91 L 344.36 337.98" style="fill: none; stroke-dasharray: 2.4,2; stroke-dashoffset: 0; stroke: #c2c2c2; stroke-width: 0.4"/>
    <path d="M 238.94 222.03 L 241.48 305.03" style="fill: none; stroke: #d4d4d4; stroke-width: 0.4"/><path d="M 241.48 305.03 L 352.05 329.33" style="fill: none; stroke-dasharray: 2.4,2; stroke-dashoffset: 0; stroke: #c2c2c2; stroke-width: 0.4"/>
    <path d="M 248.07 215.36 L 250.24 297.37" style="fill: none; stroke: #d4d4d4; stroke-width: 0.4"/><path d="M 250.24 297.37 L 359.50 320.95" style="fill: none; stroke-dasharray: 2.4,2; stroke-dashoffset: 0; stroke: #c2c2c2; stroke-width: 0.4"/>
    <path d="M 256.92 208.89 L 258.74 289.94" style="fill: none; stroke: #d4d4d4; stroke-width: 0.4"/><path d="M 258.74 289.94 L 366.73 312.82" style="fill: none; stroke-dasharray: 2.4,2; stroke-dashoffset: 0; stroke: #c2c2c2; stroke-width: 0.4"/>
    <path d="M 265.51 202.61 L 267.00 282.72" style="fill: none; stroke: #d4d4d4; stroke-width: 0.4"/><path d="M 267.00 282.72 L 373.74 304.94" style="fill: none; stroke-dasharray: 2.4,2; stroke-dashoffset: 0; stroke: #c2c2c2; stroke-width: 0.4"/>
    <path d="M 273.85 196.51 L 275.03 275.71" style="fill: none; stroke: #d4d4d4; stroke-width: 0.4"/><path d="M 275.03 275.71 L 380.55 297.29" style="fill: none; stroke-dasharray: 2.4,2; stroke-dashoffset: 0; stroke: #c2c2c2; stroke-width: 0.4"/>
   </g>
  </g>
  <g id="grid3d_12">
   <g id="Line3DCollection_12">
    <path d="M 385.24 290.61 L 280.49 269.50 L 225.83 317.14 
" style="fill: none; stroke-dasharray: 2.4,2; stroke-dashoffset: 0; stroke: #c2c2c2; stroke-width: 0.4"/>
    <path d="M 385.66 278.96 L 280.35 258.24 L 225.37 305.03 
" style="fill: none; stroke-dasharray: 2.4,2; stroke-dashoffset: 0; stroke: #c2c2c2; stroke-width: 0.4"/>
    <path d="M 386.08 267.19 L 280.21 246.86 L 224.90 292.78 
" style="fill: none; stroke-dasharray: 2.4,2; stroke-dashoffset: 0; stroke: #c2c2c2; stroke-width: 0.4"/>
    <path d="M 386.51 255.29 L 280.07 235.36 L 224.43 280.39 
" style="fill: none; stroke-dasharray: 2.4,2; stroke-dashoffset: 0; stroke: #c2c2c2; stroke-width: 0.4"/>
    <path d="M 386.94 243.26 L 279.93 223.74 L 223.95 267.85 
" style="fill: none; stroke-dasharray: 2.4,2; stroke-dashoffset: 0; stroke: #c2c2c2; stroke-width: 0.4"/>
    <path d="M 387.37 231.10 L 279.78 212.00 L 223.47 255.18 
" style="fill: none; stroke-dasharray: 2.4,2; stroke-dashoffset: 0; stroke: #c2c2c2; stroke-width: 0.4"/>
    <path d="M 387.81 218.80 L 279.64 200.13 L 222.98 242.35 
" style="fill: none; stroke-dasharray: 2.4,2; stroke-dashoffset: 0; stroke: #c2c2c2; stroke-width: 0.4"/>
   </g>
  </g>
  <g id="axis3d_10">
   <g id="line2d_77">
    <path d="M 225.89 318.66 L 338.74 344.29 
" style="fill: none; stroke: #cccccc; stroke-width: 0.4; stroke-linecap: square"/>
   </g>
   <g id="xtick_68">
    <g id="line2d_78">
     <path d="M 236.30 317.86 L 233.46 320.38 
" style="fill: none"/>
    </g>
   </g>
   <g id="xtick_69">
    <g id="line2d_79">
     <path d="M 250.55 321.07 L 247.76 323.62 
" style="fill: none"/>
    </g>
   </g>
   <g id="xtick_70">
    <g id="line2d_80">
     <path d="M 264.97 324.33 L 262.23 326.91 
" style="fill: none"/>
    </g>
   </g>
   <g id="xtick_71">
    <g id="line2d_81">
     <path d="M 279.57 327.62 L 276.88 330.24 
" style="fill: none"/>
    </g>
   </g>
   <g id="xtick_72">
    <g id="line2d_82">
     <path d="M 294.34 330.96 L 291.72 333.61 
" style="fill: none"/>
    </g>
   </g>
   <g id="xtick_73">
    <g id="line2d_83">
     <path d="M 309.31 334.34 L 306.73 337.02 
" style="fill: none"/>
    </g>
   </g>
   <g id="xtick_74">
    <g id="line2d_84">
     <path d="M 324.45 337.76 L 321.94 340.47 
" style="fill: none"/>
    </g>
   </g>
   <g id="xtick_75">
    <g id="line2d_85">
     <path d="M 339.79 341.22 L 337.34 343.97 
" style="fill: none"/>
    </g>
   </g>
  </g>
  <g id="axis3d_11">
   <g id="line2d_86">
    <path d="M 385.19 292.07 L 338.74 344.29 
" style="fill: none; stroke: #cccccc; stroke-width: 0.4; stroke-linecap: square"/>
   </g>
   <g id="xtick_76">
    <g id="line2d_87">
     <path d="M 338.74 336.72 L 344.36 337.98 
" style="fill: none"/>
    </g>
   </g>
   <g id="xtick_77">
    <g id="line2d_88">
     <path d="M 346.50 328.11 L 352.05 329.33 
" style="fill: none"/>
    </g>
   </g>
   <g id="xtick_78">
    <g id="line2d_89">
     <path d="M 354.03 319.77 L 359.50 320.95 
" style="fill: none"/>
    </g>
   </g>
   <g id="xtick_79">
    <g id="line2d_90">
     <path d="M 361.32 311.68 L 366.73 312.82 
" style="fill: none"/>
    </g>
   </g>
   <g id="xtick_80">
    <g id="line2d_91">
     <path d="M 368.40 303.83 L 373.74 304.94 
" style="fill: none"/>
    </g>
   </g>
   <g id="xtick_81">
    <g id="line2d_92">
     <path d="M 375.27 296.21 L 380.55 297.29 
" style="fill: none"/>
    </g>
   </g>
  </g>
  <g id="axis3d_12">
   <g id="line2d_93">
    <path d="M 385.19 292.07 L 388.10 210.74 
" style="fill: none; stroke: #cccccc; stroke-width: 0.4; stroke-linecap: square"/>
   </g>
   <g id="xtick_82">
    <g id="line2d_94">
     <path d="M 380.01 289.55 L 385.24 290.61 
" style="fill: none"/>
    </g>
   </g>
   <g id="xtick_83">
    <g id="line2d_95">
     <path d="M 380.40 277.92 L 385.66 278.96 
" style="fill: none"/>
    </g>
   </g>
   <g id="xtick_84">
    <g id="line2d_96">
     <path d="M 380.79 266.17 L 386.08 267.19 
" style="fill: none"/>
    </g>
   </g>
   <g id="xtick_85">
    <g id="line2d_97">
     <path d="M 381.18 254.29 L 386.51 255.29 
" style="fill: none"/>
    </g>
   </g>
   <g id="xtick_86">
    <g id="line2d_98">
     <path d="M 381.58 242.28 L 386.94 243.26 
" style="fill: none"/>
    </g>
   </g>
   <g id="xtick_87">
    <g id="line2d_99">
     <path d="M 381.99 230.14 L 387.37 231.10 
" style="fill: none"/>
    </g>
   </g>
   <g id="xtick_88">
    <g id="line2d_100">
     <path d="M 382.40 217.87 L 387.81 218.80 
" style="fill: none"/>
    </g>
   </g>
  </g>
  <g id="axes_4">
   <g transform="scale(0.72)"><path d="M325.14 425.96 L325.38 421.16 L325.48 416.58 L325.73 412.14 L326.16 407.84 L326.79 403.69 L327.62 399.68 L328.65 395.81 L329.88 392.07 L331.31 388.47 L332.94 385 L334.78 381.66 L336.81 378.45 L339.05 375.36 L341.5 372.39 L344.15 369.54 L347.01 366.81 L350.08 364.2 L353.36 361.7 L356.86 359.31 L360.57 357.04 L364.51 354.88 L368.66 352.83 L373.1 350.87 L376.29 356.66 L385.7 340.3 L366.91 338.54 L370.1 344.33 L365.58 346.47 L361.22 348.78 L357.07 351.22 L353.16 353.79 L349.47 356.5 L346 359.34 L342.77 362.3 L339.77 365.4 L337.01 368.63 L334.48 371.99 L332.19 375.47 L330.14 379.08 L328.32 382.8 L326.76 386.64 L325.43 390.6 L324.34 394.67 L323.5 398.85 L322.9 403.13 L322.55 407.52 L322.44 412.02 L322.59 416.61 L323.03 421.31 L324.06 426.04 Z" fill="#e6eef9" stroke="#a9bedd" stroke-width="1.1" stroke-linejoin="miter"/><path d="M401.88 365.84 L405.87 366.63 L409.88 366.88 L413.85 366.9 L417.8 366.71 L421.71 366.34 L425.58 365.77 L429.42 365.03 L433.21 364.1 L436.97 362.99 L440.69 361.7 L444.36 360.24 L447.98 358.59 L451.56 356.77 L455.1 354.77 L458.58 352.59 L462.02 350.25 L465.41 347.72 L468.75 345.03 L472.04 342.16 L475.28 339.12 L478.46 335.91 L481.6 332.53 L484.65 329.02 L488.78 334.23 L493.4 316.2 L475.02 319.17 L479.15 324.38 L476.27 327.89 L473.39 331.19 L470.47 334.33 L467.5 337.31 L464.49 340.13 L461.43 342.78 L458.33 345.28 L455.19 347.62 L452 349.8 L448.77 351.82 L445.48 353.69 L442.15 355.4 L438.77 356.96 L435.34 358.36 L431.86 359.61 L428.33 360.71 L424.74 361.65 L421.09 362.45 L417.39 363.1 L413.63 363.61 L409.81 363.99 L405.91 364.27 L401.92 364.76 Z" fill="#f6e0e0" stroke="#d9a3a3" stroke-width="1.1" stroke-linejoin="miter"/></g><g id="Poly3DCollection_4">
    <path d="M 279.22 274.50 L 306.35 269.97 L 311.00 266.15 L 284.05 272.31 z" clip-path="url(#pbcaf233bfc)" style="fill: #48186a; stroke: #48186a; stroke-width: 0.7; stroke-linejoin: round"/>
    <path d="M 274.37 281.32 L 301.63 276.63 L 306.35 269.97 L 279.22 274.50 z" clip-path="url(#pbcaf233bfc)" style="fill: #481467; stroke: #481467; stroke-width: 0.7; stroke-linejoin: round"/>
    <path d="M 306.35 269.97 L 322.43 268.98 L 326.98 263.05 L 311.00 266.15 z" clip-path="url(#pbcaf233bfc)" style="fill: #414287; stroke: #414287; stroke-width: 0.7; stroke-linejoin: round"/>
    <path d="M 269.39 285.25 L 296.82 281.52 L 301.63 276.63 L 274.37 281.32 z" clip-path="url(#pbcaf233bfc)" style="fill: #470d60; stroke: #470d60; stroke-width: 0.7; stroke-linejoin: round"/>
    <path d="M 322.43 268.98 L 334.36 266.12 L 338.84 260.81 L 326.98 263.05 z" clip-path="url(#pbcaf233bfc)" style="fill: #375a8c; stroke: #375a8c; stroke-width: 0.7; stroke-linejoin: round"/>
    <path d="M 301.63 276.63 L 317.80 273.68 L 322.43 268.98 L 306.35 269.97 z" clip-path="url(#pbcaf233bfc)" style="fill: #433e85; stroke: #433e85; stroke-width: 0.7; stroke-linejoin: round"/>
    <path d="M 264.32 289.48 L 291.93 286.26 L 296.82 281.52 L 269.39 285.25 z" clip-path="url(#pbcaf233bfc)" style="fill: #470d60; stroke: #470d60; stroke-width: 0.7; stroke-linejoin: round"/>
    <path d="M 334.36 266.12 L 343.83 259.02 L 348.39 247.33 L 338.84 260.81 z" clip-path="url(#pbcaf233bfc)" style="fill: #287c8e; stroke: #287c8e; stroke-width: 0.7; stroke-linejoin: round"/>
    <path d="M 317.80 273.68 L 329.82 269.57 L 334.36 266.12 L 322.43 268.98 z" clip-path="url(#pbcaf233bfc)" style="fill: #38588c; stroke: #38588c; stroke-width: 0.7; stroke-linejoin: round"/>
    <path d="M 296.82 281.52 L 313.09 277.41 L 317.80 273.68 L 301.63 276.63 z" clip-path="url(#pbcaf233bfc)" style="fill: #443a83; stroke: #443a83; stroke-width: 0.7; stroke-linejoin: round"/>
    <path d="M 259.16 293.85 L 286.95 291.09 L 291.93 286.26 L 264.32 289.48 z" clip-path="url(#pbcaf233bfc)" style="fill: #470d60; stroke: #470d60; stroke-width: 0.7; stroke-linejoin: round"/>
    <path d="M 329.82 269.57 L 339.31 264.86 L 343.83 259.02 L 334.36 266.12 z" clip-path="url(#pbcaf233bfc)" style="fill: #2c738e; stroke: #2c738e; stroke-width: 0.7; stroke-linejoin: round"/>
    <path d="M 343.83 259.02 L 352.68 245.59 L 357.17 236.88 L 348.39 247.33 z" clip-path="url(#pbcaf233bfc)" style="fill: #27ad81; stroke: #27ad81; stroke-width: 0.7; stroke-linejoin: round"/>
    <path d="M 313.09 277.41 L 325.19 273.08 L 329.82 269.57 L 317.80 273.68 z" clip-path="url(#pbcaf233bfc)" style="fill: #375a8c; stroke: #375a8c; stroke-width: 0.7; stroke-linejoin: round"/>
    <path d="M 291.93 286.26 L 308.30 281.22 L 313.09 277.41 L 296.82 281.52 z" clip-path="url(#pbcaf233bfc)" style="fill: #443b84; stroke: #443b84; stroke-width: 0.7; stroke-linejoin: round"/>
    <path d="M 253.90 298.18 L 281.88 296.24 L 286.95 291.09 L 259.16 293.85 z" clip-path="url(#pbcaf233bfc)" style="fill: #470d60; stroke: #470d60; stroke-width: 0.7; stroke-linejoin: round"/>
    <path d="M 325.19 273.08 L 334.72 270.79 L 339.31 264.86 L 329.82 269.57 z" clip-path="url(#pbcaf233bfc)" style="fill: #2c728e; stroke: #2c728e; stroke-width: 0.7; stroke-linejoin: round"/>
    <path d="M 339.31 264.86 L 348.22 249.84 L 352.68 245.59 L 343.83 259.02 z" clip-path="url(#pbcaf233bfc)" style="fill: #1fa188; stroke: #1fa188; stroke-width: 0.7; stroke-linejoin: round"/>
    <path d="M 352.68 245.59 L 361.21 233.33 L 365.60 227.70 L 357.17 236.88 z" clip-path="url(#pbcaf233bfc)" style="fill: #8bd646; stroke: #8bd646; stroke-width: 0.7; stroke-linejoin: round"/>
    <path d="M 286.95 291.09 L 303.41 285.81 L 308.30 281.22 L 291.93 286.26 z" clip-path="url(#pbcaf233bfc)" style="fill: #443b84; stroke: #443b84; stroke-width: 0.7; stroke-linejoin: round"/>
    <path d="M 308.30 281.22 L 320.47 276.66 L 325.19 273.08 L 313.09 277.41 z" clip-path="url(#pbcaf233bfc)" style="fill: #365d8d; stroke: #365d8d; stroke-width: 0.7; stroke-linejoin: round"/>
    <path d="M 248.61 304.91 L 276.72 301.49 L 281.88 296.24 L 253.90 298.18 z" clip-path="url(#pbcaf233bfc)" style="fill: #46085c; stroke: #46085c; stroke-width: 0.7; stroke-linejoin: round"/>
    <path d="M 334.72 270.79 L 343.62 257.24 L 348.22 249.84 L 339.31 264.86 z" clip-path="url(#pbcaf233bfc)" style="fill: #1e9b8a; stroke: #1e9b8a; stroke-width: 0.7; stroke-linejoin: round"/>
    <path d="M 361.21 233.33 L 368.26 229.93 L 372.65 222.76 L 365.60 227.70 z" clip-path="url(#pbcaf233bfc)" style="fill: #e7e419; stroke: #e7e419; stroke-width: 0.7; stroke-linejoin: round"/>
    <path d="M 320.47 276.66 L 330.06 275.30 L 334.72 270.79 L 325.19 273.08 z" clip-path="url(#pbcaf233bfc)" style="fill: #2c728e; stroke: #2c728e; stroke-width: 0.7; stroke-linejoin: round"/>
    <path d="M 348.22 249.84 L 356.89 232.84 L 361.21 233.33 L 352.68 245.59 z" clip-path="url(#pbcaf233bfc)" style="fill: #86d549; stroke: #86d549; stroke-width: 0.7; stroke-linejoin: round"/>
    <path d="M 281.88 296.24 L 298.44 290.49 L 303.41 285.81 L 286.95 291.09 z" clip-path="url(#pbcaf233bfc)" style="fill: #443a83; stroke: #443a83; stroke-width: 0.7; stroke-linejoin: round"/>
    <path d="M 303.41 285.81 L 315.66 280.30 L 320.47 276.66 L 308.30 281.22 z" clip-path="url(#pbcaf233bfc)" style="fill: #34608d; stroke: #34608d; stroke-width: 0.7; stroke-linejoin: round"/>
    <path d="M 368.26 229.93 L 373.75 234.03 L 378.54 212.85 L 372.65 222.76 z" clip-path="url(#pbcaf233bfc)" style="fill: #fde725; stroke: #fde725; stroke-width: 0.7; stroke-linejoin: round"/>
    <path d="M 243.13 308.41 L 271.46 306.84 L 276.72 301.49 L 248.61 304.91 z" clip-path="url(#pbcaf233bfc)" style="fill: #450559; stroke: #450559; stroke-width: 0.7; stroke-linejoin: round"/>
    <path d="M 330.06 275.30 L 339.01 260.13 L 343.62 257.24 L 334.72 270.79 z" clip-path="url(#pbcaf233bfc)" style="fill: #1f988b; stroke: #1f988b; stroke-width: 0.7; stroke-linejoin: round"/>
    <path d="M 315.66 280.30 L 325.28 282.96 L 330.06 275.30 L 320.47 276.66 z" clip-path="url(#pbcaf233bfc)" style="fill: #2c718e; stroke: #2c718e; stroke-width: 0.7; stroke-linejoin: round"/>
    <path d="M 356.89 232.84 L 364.12 224.68 L 368.26 229.93 L 361.21 233.33 z" clip-path="url(#pbcaf233bfc)" style="fill: #fde725; stroke: #fde725; stroke-width: 0.7; stroke-linejoin: round"/>
    <path d="M 343.62 257.24 L 352.18 246.44 L 356.89 232.84 L 348.22 249.84 z" clip-path="url(#pbcaf233bfc)" style="fill: #75d054; stroke: #75d054; stroke-width: 0.7; stroke-linejoin: round"/>
    <path d="M 276.72 301.49 L 293.37 295.98 L 298.44 290.49 L 281.88 296.24 z" clip-path="url(#pbcaf233bfc)" style="fill: #443983; stroke: #443983; stroke-width: 0.7; stroke-linejoin: round"/>
    <path d="M 364.12 224.68 L 369.28 242.91 L 373.75 234.03 L 368.26 229.93 z" clip-path="url(#pbcaf233bfc)" style="fill: #efe51c; stroke: #efe51c; stroke-width: 0.7; stroke-linejoin: round"/>
    <path d="M 298.44 290.49 L 310.76 284.97 L 315.66 280.30 L 303.41 285.81 z" clip-path="url(#pbcaf233bfc)" style="fill: #34618d; stroke: #34618d; stroke-width: 0.7; stroke-linejoin: round"/>
    <path d="M 237.67 315.94 L 266.11 312.77 L 271.46 306.84 L 243.13 308.41 z" clip-path="url(#pbcaf233bfc)" style="fill: #440154; stroke: #440154; stroke-width: 0.7; stroke-linejoin: round"/>
    <path d="M 325.28 282.96 L 334.22 270.86 L 339.01 260.13 L 330.06 275.30 z" clip-path="url(#pbcaf233bfc)" style="fill: #21918c; stroke: #21918c; stroke-width: 0.7; stroke-linejoin: round"/>
    <path d="M 352.18 246.44 L 359.34 241.49 L 364.12 224.68 L 356.89 232.84 z" clip-path="url(#pbcaf233bfc)" style="fill: #ece51b; stroke: #ece51b; stroke-width: 0.7; stroke-linejoin: round"/>
    <path d="M 339.01 260.13 L 347.62 249.25 L 352.18 246.44 L 343.62 257.24 z" clip-path="url(#pbcaf233bfc)" style="fill: #5ec962; stroke: #5ec962; stroke-width: 0.7; stroke-linejoin: round"/>
    <path d="M 310.76 284.97 L 320.46 286.13 L 325.28 282.96 L 315.66 280.30 z" clip-path="url(#pbcaf233bfc)" style="fill: #2d718e; stroke: #2d718e; stroke-width: 0.7; stroke-linejoin: round"/>
    <path d="M 271.46 306.84 L 288.22 302.29 L 293.37 295.98 L 276.72 301.49 z" clip-path="url(#pbcaf233bfc)" style="fill: #463480; stroke: #463480; stroke-width: 0.7; stroke-linejoin: round"/>
    <path d="M 359.34 241.49 L 365.16 236.22 L 369.28 242.91 L 364.12 224.68 z" clip-path="url(#pbcaf233bfc)" style="fill: #f6e620; stroke: #f6e620; stroke-width: 0.7; stroke-linejoin: round"/>
    <path d="M 293.37 295.98 L 305.76 290.68 L 310.76 284.97 L 298.44 290.49 z" clip-path="url(#pbcaf233bfc)" style="fill: #355f8d; stroke: #355f8d; stroke-width: 0.7; stroke-linejoin: round"/>
    <path d="M 320.46 286.13 L 329.44 273.94 L 334.22 270.86 L 325.28 282.96 z" clip-path="url(#pbcaf233bfc)" style="fill: #228b8d; stroke: #228b8d; stroke-width: 0.7; stroke-linejoin: round"/>
    <path d="M 334.22 270.86 L 342.82 261.58 L 347.62 249.25 L 339.01 260.13 z" clip-path="url(#pbcaf233bfc)" style="fill: #4ac16d; stroke: #4ac16d; stroke-width: 0.7; stroke-linejoin: round"/>
    <path d="M 347.62 249.25 L 355.00 236.31 L 359.34 241.49 L 352.18 246.44 z" clip-path="url(#pbcaf233bfc)" style="fill: #d0e11c; stroke: #d0e11c; stroke-width: 0.7; stroke-linejoin: round"/>
    <path d="M 305.76 290.68 L 315.53 289.37 L 320.46 286.13 L 310.76 284.97 z" clip-path="url(#pbcaf233bfc)" style="fill: #2c728e; stroke: #2c728e; stroke-width: 0.7; stroke-linejoin: round"/>
    <path d="M 266.11 312.77 L 282.98 309.44 L 288.22 302.29 L 271.46 306.84 z" clip-path="url(#pbcaf233bfc)" style="fill: #472e7c; stroke: #472e7c; stroke-width: 0.7; stroke-linejoin: round"/>
    <path d="M 355.00 236.31 L 360.30 254.79 L 365.16 236.22 L 359.34 241.49 z" clip-path="url(#pbcaf233bfc)" style="fill: #e7e419; stroke: #e7e419; stroke-width: 0.7; stroke-linejoin: round"/>
    <path d="M 288.22 302.29 L 300.67 296.49 L 305.76 290.68 L 293.37 295.98 z" clip-path="url(#pbcaf233bfc)" style="fill: #375b8d; stroke: #375b8d; stroke-width: 0.7; stroke-linejoin: round"/>
    <path d="M 329.44 273.94 L 338.06 266.17 L 342.82 261.58 L 334.22 270.86 z" clip-path="url(#pbcaf233bfc)" style="fill: #34b679; stroke: #34b679; stroke-width: 0.7; stroke-linejoin: round"/>
    <path d="M 342.82 261.58 L 350.07 255.04 L 355.00 236.31 L 347.62 249.25 z" clip-path="url(#pbcaf233bfc)" style="fill: #b2dd2d; stroke: #b2dd2d; stroke-width: 0.7; stroke-linejoin: round"/>
    <path d="M 315.53 289.37 L 324.51 283.38 L 329.44 273.94 L 320.46 286.13 z" clip-path="url(#pbcaf233bfc)" style="fill: #228b8d; stroke: #228b8d; stroke-width: 0.7; stroke-linejoin: round"/>
    <path d="M 300.67 296.49 L 310.51 295.80 L 315.53 289.37 L 305.76 290.68 z" clip-path="url(#pbcaf233bfc)" style="fill: #2d718e; stroke: #2d718e; stroke-width: 0.7; stroke-linejoin: round"/>
    <path d="M 350.07 255.04 L 355.97 248.15 L 360.30 254.79 L 355.00 236.31 z" clip-path="url(#pbcaf233bfc)" style="fill: #d2e21b; stroke: #d2e21b; stroke-width: 0.7; stroke-linejoin: round"/>
    <path d="M 282.98 309.44 L 295.48 302.41 L 300.67 296.49 L 288.22 302.29 z" clip-path="url(#pbcaf233bfc)" style="fill: #39558c; stroke: #39558c; stroke-width: 0.7; stroke-linejoin: round"/>
    <path d="M 324.51 283.38 L 333.11 280.38 L 338.06 266.17 L 329.44 273.94 z" clip-path="url(#pbcaf233bfc)" style="fill: #25ac82; stroke: #25ac82; stroke-width: 0.7; stroke-linejoin: round"/>
    <path d="M 338.06 266.17 L 345.55 248.35 L 350.07 255.04 L 342.82 261.58 z" clip-path="url(#pbcaf233bfc)" style="fill: #95d840; stroke: #95d840; stroke-width: 0.7; stroke-linejoin: round"/>
    <path d="M 310.51 295.80 L 319.53 289.81 L 324.51 283.38 L 315.53 289.37 z" clip-path="url(#pbcaf233bfc)" style="fill: #25858e; stroke: #25858e; stroke-width: 0.7; stroke-linejoin: round"/>
    <path d="M 295.48 302.41 L 305.38 302.35 L 310.51 295.80 L 300.67 296.49 z" clip-path="url(#pbcaf233bfc)" style="fill: #2f6c8e; stroke: #2f6c8e; stroke-width: 0.7; stroke-linejoin: round"/>
    <path d="M 345.55 248.35 L 351.00 267.10 L 355.97 248.15 L 350.07 255.04 z" clip-path="url(#pbcaf233bfc)" style="fill: #c2df23; stroke: #c2df23; stroke-width: 0.7; stroke-linejoin: round"/>
    <path d="M 319.53 289.81 L 328.19 285.23 L 333.11 280.38 L 324.51 283.38 z" clip-path="url(#pbcaf233bfc)" style="fill: #1f9e89; stroke: #1f9e89; stroke-width: 0.7; stroke-linejoin: round"/>
    <path d="M 333.11 280.38 L 340.47 269.07 L 345.55 248.35 L 338.06 266.17 z" clip-path="url(#pbcaf233bfc)" style="fill: #75d054; stroke: #75d054; stroke-width: 0.7; stroke-linejoin: round"/>
    <path d="M 305.38 302.35 L 314.45 297.94 L 319.53 289.81 L 310.51 295.80 z" clip-path="url(#pbcaf233bfc)" style="fill: #277e8e; stroke: #277e8e; stroke-width: 0.7; stroke-linejoin: round"/>
    <path d="M 340.47 269.07 L 346.45 260.52 L 351.00 267.10 L 345.55 248.35 z" clip-path="url(#pbcaf233bfc)" style="fill: #b0dd2f; stroke: #b0dd2f; stroke-width: 0.7; stroke-linejoin: round"/>
    <path d="M 328.19 285.23 L 335.67 267.36 L 340.47 269.07 L 333.11 280.38 z" clip-path="url(#pbcaf233bfc)" style="fill: #4cc26c; stroke: #4cc26c; stroke-width: 0.7; stroke-linejoin: round"/>
    <path d="M 314.45 297.94 L 323.13 294.98 L 328.19 285.23 L 319.53 289.81 z" clip-path="url(#pbcaf233bfc)" style="fill: #1f958b; stroke: #1f958b; stroke-width: 0.7; stroke-linejoin: round"/>
    <path d="M 335.67 267.36 L 341.39 278.24 L 346.45 260.52 L 340.47 269.07 z" clip-path="url(#pbcaf233bfc)" style="fill: #93d741; stroke: #93d741; stroke-width: 0.7; stroke-linejoin: round"/>
    <path d="M 323.13 294.98 L 330.51 286.83 L 335.67 267.36 L 328.19 285.23 z" clip-path="url(#pbcaf233bfc)" style="fill: #37b878; stroke: #37b878; stroke-width: 0.7; stroke-linejoin: round"/>
    <path d="M 330.51 286.83 L 336.47 281.53 L 341.39 278.24 L 335.67 267.36 z" clip-path="url(#pbcaf233bfc)" style="fill: #65cb5e; stroke: #65cb5e; stroke-width: 0.7; stroke-linejoin: round"/>
   </g>
  </g>
 </g>
 <defs>
  <clipPath id="p6615d62ce2">
   <rect x="-13.01" y="-19.48" width="189.67" height="189.67"/>
  </clipPath>
  <clipPath id="p989c612ba4">
   <rect x="208.38" y="-19.48" width="189.67" height="189.67"/>
  </clipPath>
  <clipPath id="p407dfe2219">
   <rect x="-12.94" y="172.03" width="189.67" height="189.67"/>
  </clipPath>
  <clipPath id="pbcaf233bfc">
   <rect x="210.18" y="172.03" width="189.67" height="189.67"/>
  </clipPath>
 </defs>
</svg>

<svg width="598" height="514" viewBox="0 0 598 514" style="position:absolute;left:0;top:0"><defs><linearGradient id="vir" x1="0" y1="1" x2="0" y2="0"><stop offset="0" stop-color="#440154"/><stop offset="0.06" stop-color="#48186a"/><stop offset="0.12" stop-color="#472d7b"/><stop offset="0.19" stop-color="#424086"/><stop offset="0.25" stop-color="#3b528b"/><stop offset="0.31" stop-color="#33638d"/><stop offset="0.38" stop-color="#2c728e"/><stop offset="0.44" stop-color="#26828e"/><stop offset="0.5" stop-color="#21918c"/><stop offset="0.56" stop-color="#1fa088"/><stop offset="0.62" stop-color="#28ae80"/><stop offset="0.69" stop-color="#3fbc73"/><stop offset="0.75" stop-color="#5ec962"/><stop offset="0.81" stop-color="#84d44b"/><stop offset="0.88" stop-color="#addc30"/><stop offset="0.94" stop-color="#d8e219"/><stop offset="1" stop-color="#fde725"/></linearGradient></defs><g transform="translate(0 0)"><path d="M14.25 178.98L12.08 181.31 M34.11 183.49L31.94 185.82 M54.21 188.05L52.04 190.39 M74.56 192.67L72.39 195.01 M95.17 197.35L92.99 199.69 M116.03 202.09L113.85 204.43 M137.15 206.89L134.97 209.22 M158.53 211.74L156.36 214.08 M168.28 203.42L171.4 204.15 M178.96 191.41L182.08 192.14 M189.32 179.77L192.43 180.5 M199.35 168.48L202.47 169.21 M209.09 157.54L212.21 158.26 M218.54 146.91L221.66 147.63 M225.23 133.1L228.43 133.6 M225.95 112.87L229.15 113.37 M226.69 92.37L229.89 92.87 M227.43 71.59L230.63 72.09 M228.18 50.52L231.38 51.02 M228.95 29.17L232.15 29.67" stroke="#333" stroke-width="0.6" fill="none"/><text x="11.2" y="188.3" font-family="Liberation Serif" font-size="5.4" font-weight="normal" text-anchor="middle" dominant-baseline="central" fill="#3a3a3a">64</text><text x="32.04" y="193.03" font-family="Liberation Serif" font-size="5.4" font-weight="normal" text-anchor="middle" dominant-baseline="central" fill="#3a3a3a">96</text><text x="52.89" y="197.76" font-family="Liberation Serif" font-size="5.4" font-weight="normal" text-anchor="middle" dominant-baseline="central" fill="#3a3a3a">128</text><text x="73.73" y="202.49" font-family="Liberation Serif" font-size="5.4" font-weight="normal" text-anchor="middle" dominant-baseline="central" fill="#3a3a3a">160</text><text x="94.57" y="207.21" font-family="Liberation Serif" font-size="5.4" font-weight="normal" text-anchor="middle" dominant-baseline="central" fill="#3a3a3a">192</text><text x="115.41" y="211.94" font-family="Liberation Serif" font-size="5.4" font-weight="normal" text-anchor="middle" dominant-baseline="central" fill="#3a3a3a">224</text><text x="136.26" y="216.67" font-family="Liberation Serif" font-size="5.4" font-weight="normal" text-anchor="middle" dominant-baseline="central" fill="#3a3a3a">256</text><text x="157.1" y="221.4" font-family="Liberation Serif" font-size="5.4" font-weight="normal" text-anchor="middle" dominant-baseline="central" fill="#3a3a3a">300</text><text x="175.7" y="210.9" font-family="Liberation Serif" font-size="5.4" font-weight="normal" text-anchor="middle" dominant-baseline="central" fill="#3a3a3a">200</text><text x="185.46" y="199.78" font-family="Liberation Serif" font-size="5.4" font-weight="normal" text-anchor="middle" dominant-baseline="central" fill="#3a3a3a">400</text><text x="195.22" y="188.66" font-family="Liberation Serif" font-size="5.4" font-weight="normal" text-anchor="middle" dominant-baseline="central" fill="#3a3a3a">600</text><text x="204.98" y="177.54" font-family="Liberation Serif" font-size="5.4" font-weight="normal" text-anchor="middle" dominant-baseline="central" fill="#3a3a3a">800</text><text x="214.74" y="166.42" font-family="Liberation Serif" font-size="5.4" font-weight="normal" text-anchor="middle" dominant-baseline="central" fill="#3a3a3a">1000</text><text x="224.5" y="155.3" font-family="Liberation Serif" font-size="5.4" font-weight="normal" text-anchor="middle" dominant-baseline="central" fill="#3a3a3a">1200</text><text x="236.6" y="133.3" font-family="Liberation Serif" font-size="5.4" font-weight="normal" text-anchor="middle" dominant-baseline="central" fill="#3a3a3a">1.0</text><text x="236.6" y="112.5" font-family="Liberation Serif" font-size="5.4" font-weight="normal" text-anchor="middle" dominant-baseline="central" fill="#3a3a3a">2.0</text><text x="236.6" y="91.7" font-family="Liberation Serif" font-size="5.4" font-weight="normal" text-anchor="middle" dominant-baseline="central" fill="#3a3a3a">3.0</text><text x="236.6" y="70.9" font-family="Liberation Serif" font-size="5.4" font-weight="normal" text-anchor="middle" dominant-baseline="central" fill="#3a3a3a">4.0</text><text x="236.6" y="50.1" font-family="Liberation Serif" font-size="5.4" font-weight="normal" text-anchor="middle" dominant-baseline="central" fill="#3a3a3a">5.0</text><text x="236.6" y="29.3" font-family="Liberation Serif" font-size="5.4" font-weight="normal" text-anchor="middle" dominant-baseline="central" fill="#3a3a3a">6.0</text><text x="73.6" y="214.7" font-family="Liberation Serif" font-size="7.75" font-weight="bold" text-anchor="middle" dominant-baseline="central" fill="#111" transform="rotate(12.8 73.6 214.7)">SSNR (linear)</text><text x="211.5" y="190.6" font-family="Liberation Serif" font-size="7.75" font-weight="bold" text-anchor="middle" dominant-baseline="central" fill="#111" transform="rotate(-47 211.5 190.6)">Horizon</text><text x="250.2" y="81.3" font-family="Liberation Sans" font-size="7.1" font-weight="bold" text-anchor="middle" dominant-baseline="central" fill="#111" transform="rotate(-90 250.2 81.3)">Actual MSE</text><rect x="265" y="26" width="10" height="158" fill="url(#vir)"/><text x="277.2" y="169.15" font-family="Liberation Serif" font-size="5.4" font-weight="normal" text-anchor="start" dominant-baseline="central" fill="#666">1.5</text><text x="277.2" y="151.48" font-family="Liberation Serif" font-size="5.4" font-weight="normal" text-anchor="start" dominant-baseline="central" fill="#666">2.0</text><text x="277.2" y="133.81" font-family="Liberation Serif" font-size="5.4" font-weight="normal" text-anchor="start" dominant-baseline="central" fill="#666">2.5</text><text x="277.2" y="116.13" font-family="Liberation Serif" font-size="5.4" font-weight="normal" text-anchor="start" dominant-baseline="central" fill="#666">3.0</text><text x="277.2" y="98.46" font-family="Liberation Serif" font-size="5.4" font-weight="normal" text-anchor="start" dominant-baseline="central" fill="#666">3.5</text><text x="277.2" y="80.79" font-family="Liberation Serif" font-size="5.4" font-weight="normal" text-anchor="start" dominant-baseline="central" fill="#666">4.0</text><text x="277.2" y="63.11" font-family="Liberation Serif" font-size="5.4" font-weight="normal" text-anchor="start" dominant-baseline="central" fill="#666">4.5</text><text x="277.2" y="45.44" font-family="Liberation Serif" font-size="5.4" font-weight="normal" text-anchor="start" dominant-baseline="central" fill="#666">5.0</text><text x="277.2" y="27.77" font-family="Liberation Serif" font-size="5.4" font-weight="normal" text-anchor="start" dominant-baseline="central" fill="#666">5.5</text><text x="286.9" y="105.3" font-family="Liberation Serif" font-size="6.5" font-weight="normal" text-anchor="middle" dominant-baseline="central" fill="#777" transform="rotate(-90 286.9 105.3)">Actual MSE</text></g><g transform="translate(307.5 0)"><path d="M14.25 178.98L12.08 181.31 M34.11 183.49L31.94 185.82 M54.21 188.05L52.04 190.39 M74.56 192.67L72.39 195.01 M95.17 197.35L92.99 199.69 M116.03 202.09L113.85 204.43 M137.15 206.89L134.97 209.22 M158.53 211.74L156.36 214.08 M168.28 203.42L171.4 204.15 M178.96 191.41L182.08 192.14 M189.32 179.77L192.43 180.5 M199.35 168.48L202.47 169.21 M209.09 157.54L212.21 158.26 M218.54 146.91L221.66 147.63 M225.06 137.75L228.26 138.25 M225.52 125.02L228.72 125.52 M225.98 112.19L229.18 112.69 M226.44 99.24L229.64 99.74 M226.91 86.18L230.11 86.68 M227.38 73.01L230.58 73.51 M227.85 59.73L231.05 60.23 M228.33 46.33L231.53 46.83 M228.82 32.82L232.02 33.32" stroke="#333" stroke-width="0.6" fill="none"/><text x="11.2" y="188.3" font-family="Liberation Serif" font-size="5.4" font-weight="normal" text-anchor="middle" dominant-baseline="central" fill="#3a3a3a">64</text><text x="32.04" y="193.03" font-family="Liberation Serif" font-size="5.4" font-weight="normal" text-anchor="middle" dominant-baseline="central" fill="#3a3a3a">96</text><text x="52.89" y="197.76" font-family="Liberation Serif" font-size="5.4" font-weight="normal" text-anchor="middle" dominant-baseline="central" fill="#3a3a3a">128</text><text x="73.73" y="202.49" font-family="Liberation Serif" font-size="5.4" font-weight="normal" text-anchor="middle" dominant-baseline="central" fill="#3a3a3a">160</text><text x="94.57" y="207.21" font-family="Liberation Serif" font-size="5.4" font-weight="normal" text-anchor="middle" dominant-baseline="central" fill="#3a3a3a">192</text><text x="115.41" y="211.94" font-family="Liberation Serif" font-size="5.4" font-weight="normal" text-anchor="middle" dominant-baseline="central" fill="#3a3a3a">224</text><text x="136.26" y="216.67" font-family="Liberation Serif" font-size="5.4" font-weight="normal" text-anchor="middle" dominant-baseline="central" fill="#3a3a3a">256</text><text x="157.1" y="221.4" font-family="Liberation Serif" font-size="5.4" font-weight="normal" text-anchor="middle" dominant-baseline="central" fill="#3a3a3a">300</text><text x="175.7" y="210.9" font-family="Liberation Serif" font-size="5.4" font-weight="normal" text-anchor="middle" dominant-baseline="central" fill="#3a3a3a">200</text><text x="185.46" y="199.78" font-family="Liberation Serif" font-size="5.4" font-weight="normal" text-anchor="middle" dominant-baseline="central" fill="#3a3a3a">400</text><text x="195.22" y="188.66" font-family="Liberation Serif" font-size="5.4" font-weight="normal" text-anchor="middle" dominant-baseline="central" fill="#3a3a3a">600</text><text x="204.98" y="177.54" font-family="Liberation Serif" font-size="5.4" font-weight="normal" text-anchor="middle" dominant-baseline="central" fill="#3a3a3a">800</text><text x="214.74" y="166.42" font-family="Liberation Serif" font-size="5.4" font-weight="normal" text-anchor="middle" dominant-baseline="central" fill="#3a3a3a">1000</text><text x="224.5" y="155.3" font-family="Liberation Serif" font-size="5.4" font-weight="normal" text-anchor="middle" dominant-baseline="central" fill="#3a3a3a">1200</text><text x="236.6" y="139.9" font-family="Liberation Serif" font-size="5.4" font-weight="normal" text-anchor="middle" dominant-baseline="central" fill="#3a3a3a">0.5</text><text x="236.6" y="126.54" font-family="Liberation Serif" font-size="5.4" font-weight="normal" text-anchor="middle" dominant-baseline="central" fill="#3a3a3a">0.6</text><text x="236.6" y="113.18" font-family="Liberation Serif" font-size="5.4" font-weight="normal" text-anchor="middle" dominant-baseline="central" fill="#3a3a3a">0.7</text><text x="236.6" y="99.81" font-family="Liberation Serif" font-size="5.4" font-weight="normal" text-anchor="middle" dominant-baseline="central" fill="#3a3a3a">0.8</text><text x="236.6" y="86.45" font-family="Liberation Serif" font-size="5.4" font-weight="normal" text-anchor="middle" dominant-baseline="central" fill="#3a3a3a">0.9</text><text x="236.6" y="73.09" font-family="Liberation Serif" font-size="5.4" font-weight="normal" text-anchor="middle" dominant-baseline="central" fill="#3a3a3a">1.0</text><text x="236.6" y="59.72" font-family="Liberation Serif" font-size="5.4" font-weight="normal" text-anchor="middle" dominant-baseline="central" fill="#3a3a3a">1.1</text><text x="236.6" y="46.36" font-family="Liberation Serif" font-size="5.4" font-weight="normal" text-anchor="middle" dominant-baseline="central" fill="#3a3a3a">1.2</text><text x="236.6" y="33" font-family="Liberation Serif" font-size="5.4" font-weight="normal" text-anchor="middle" dominant-baseline="central" fill="#3a3a3a">1.3</text><text x="73.6" y="214.7" font-family="Liberation Serif" font-size="7.75" font-weight="bold" text-anchor="middle" dominant-baseline="central" fill="#111" transform="rotate(12.8 73.6 214.7)">SSNR (linear)</text><text x="211.5" y="190.6" font-family="Liberation Serif" font-size="7.75" font-weight="bold" text-anchor="middle" dominant-baseline="central" fill="#111" transform="rotate(-47 211.5 190.6)">Horizon</text><text x="248.3" y="80.4" font-family="Liberation Serif" font-size="7.45" font-weight="bold" text-anchor="middle" dominant-baseline="central" fill="#111" transform="rotate(-90 248.3 80.4)">Relative MSE</text><rect x="264.1" y="26" width="10.3" height="158" fill="url(#vir)"/><text x="276.6" y="161.91" font-family="Liberation Serif" font-size="5.4" font-weight="normal" text-anchor="start" dominant-baseline="central" fill="#666">0.7</text><text x="276.6" y="131.23" font-family="Liberation Serif" font-size="5.4" font-weight="normal" text-anchor="start" dominant-baseline="central" fill="#666">0.8</text><text x="276.6" y="100.55" font-family="Liberation Serif" font-size="5.4" font-weight="normal" text-anchor="start" dominant-baseline="central" fill="#666">0.9</text><text x="276.6" y="69.87" font-family="Liberation Serif" font-size="5.4" font-weight="normal" text-anchor="start" dominant-baseline="central" fill="#666">1.0</text><text x="276.6" y="39.19" font-family="Liberation Serif" font-size="5.4" font-weight="normal" text-anchor="start" dominant-baseline="central" fill="#666">1.1</text><text x="286.8" y="105.8" font-family="Liberation Serif" font-size="6.5" font-weight="normal" text-anchor="middle" dominant-baseline="central" fill="#777" transform="rotate(-90 286.8 105.8)">Relative MSE</text></g><g transform="translate(0.1 266)"><path d="M14.25 178.98L12.08 181.31 M34.11 183.49L31.94 185.82 M54.21 188.05L52.04 190.39 M74.56 192.67L72.39 195.01 M95.17 197.35L92.99 199.69 M116.03 202.09L113.85 204.43 M137.15 206.89L134.97 209.22 M158.53 211.74L156.36 214.08 M168.28 203.42L171.4 204.15 M178.96 191.41L182.08 192.14 M189.32 179.77L192.43 180.5 M199.35 168.48L202.47 169.21 M209.09 157.54L212.21 158.26 M218.54 146.91L221.66 147.63 M225.03 138.6L228.23 139.1 M225.45 126.85L228.65 127.35 M225.88 115.01L229.08 115.51 M226.3 103.08L229.5 103.58 M226.73 91.05L229.93 91.55 M227.17 78.93L230.37 79.43 M227.6 66.71L230.8 67.21 M228.04 54.39L231.24 54.89 M228.49 41.98L231.69 42.48 M228.94 29.46L232.14 29.96" stroke="#333" stroke-width="0.6" fill="none"/><text x="11.2" y="188.3" font-family="Liberation Serif" font-size="5.4" font-weight="normal" text-anchor="middle" dominant-baseline="central" fill="#3a3a3a">64</text><text x="32.04" y="193.03" font-family="Liberation Serif" font-size="5.4" font-weight="normal" text-anchor="middle" dominant-baseline="central" fill="#3a3a3a">96</text><text x="52.89" y="197.76" font-family="Liberation Serif" font-size="5.4" font-weight="normal" text-anchor="middle" dominant-baseline="central" fill="#3a3a3a">128</text><text x="73.73" y="202.49" font-family="Liberation Serif" font-size="5.4" font-weight="normal" text-anchor="middle" dominant-baseline="central" fill="#3a3a3a">160</text><text x="94.57" y="207.21" font-family="Liberation Serif" font-size="5.4" font-weight="normal" text-anchor="middle" dominant-baseline="central" fill="#3a3a3a">192</text><text x="115.41" y="211.94" font-family="Liberation Serif" font-size="5.4" font-weight="normal" text-anchor="middle" dominant-baseline="central" fill="#3a3a3a">224</text><text x="136.26" y="216.67" font-family="Liberation Serif" font-size="5.4" font-weight="normal" text-anchor="middle" dominant-baseline="central" fill="#3a3a3a">256</text><text x="157.1" y="221.4" font-family="Liberation Serif" font-size="5.4" font-weight="normal" text-anchor="middle" dominant-baseline="central" fill="#3a3a3a">300</text><text x="175.7" y="210.9" font-family="Liberation Serif" font-size="5.4" font-weight="normal" text-anchor="middle" dominant-baseline="central" fill="#3a3a3a">200</text><text x="185.46" y="199.78" font-family="Liberation Serif" font-size="5.4" font-weight="normal" text-anchor="middle" dominant-baseline="central" fill="#3a3a3a">400</text><text x="195.22" y="188.66" font-family="Liberation Serif" font-size="5.4" font-weight="normal" text-anchor="middle" dominant-baseline="central" fill="#3a3a3a">600</text><text x="204.98" y="177.54" font-family="Liberation Serif" font-size="5.4" font-weight="normal" text-anchor="middle" dominant-baseline="central" fill="#3a3a3a">800</text><text x="214.74" y="166.42" font-family="Liberation Serif" font-size="5.4" font-weight="normal" text-anchor="middle" dominant-baseline="central" fill="#3a3a3a">1000</text><text x="224.5" y="155.3" font-family="Liberation Serif" font-size="5.4" font-weight="normal" text-anchor="middle" dominant-baseline="central" fill="#3a3a3a">1200</text><text x="236.6" y="139" font-family="Liberation Serif" font-size="5.4" font-weight="normal" text-anchor="middle" dominant-baseline="central" fill="#3a3a3a">0.1</text><text x="236.6" y="126.84" font-family="Liberation Serif" font-size="5.4" font-weight="normal" text-anchor="middle" dominant-baseline="central" fill="#3a3a3a">0.2</text><text x="236.6" y="114.69" font-family="Liberation Serif" font-size="5.4" font-weight="normal" text-anchor="middle" dominant-baseline="central" fill="#3a3a3a">0.3</text><text x="236.6" y="102.53" font-family="Liberation Serif" font-size="5.4" font-weight="normal" text-anchor="middle" dominant-baseline="central" fill="#3a3a3a">0.4</text><text x="236.6" y="90.38" font-family="Liberation Serif" font-size="5.4" font-weight="normal" text-anchor="middle" dominant-baseline="central" fill="#3a3a3a">0.5</text><text x="236.6" y="78.22" font-family="Liberation Serif" font-size="5.4" font-weight="normal" text-anchor="middle" dominant-baseline="central" fill="#3a3a3a">0.6</text><text x="236.6" y="66.07" font-family="Liberation Serif" font-size="5.4" font-weight="normal" text-anchor="middle" dominant-baseline="central" fill="#3a3a3a">0.7</text><text x="236.6" y="53.91" font-family="Liberation Serif" font-size="5.4" font-weight="normal" text-anchor="middle" dominant-baseline="central" fill="#3a3a3a">0.8</text><text x="236.6" y="41.76" font-family="Liberation Serif" font-size="5.4" font-weight="normal" text-anchor="middle" dominant-baseline="central" fill="#3a3a3a">0.9</text><text x="236.6" y="29.6" font-family="Liberation Serif" font-size="5.4" font-weight="normal" text-anchor="middle" dominant-baseline="central" fill="#3a3a3a">1.0</text><text x="73.6" y="214.7" font-family="Liberation Serif" font-size="7.75" font-weight="bold" text-anchor="middle" dominant-baseline="central" fill="#111" transform="rotate(12.8 73.6 214.7)">SSNR (linear)</text><text x="211.5" y="190.6" font-family="Liberation Serif" font-size="7.75" font-weight="bold" text-anchor="middle" dominant-baseline="central" fill="#111" transform="rotate(-47 211.5 190.6)">Horizon</text><text x="247.7" y="82.3" font-family="Liberation Sans" font-size="7.15" font-weight="bold" text-anchor="middle" dominant-baseline="central" fill="#111" transform="rotate(-90 247.7 82.3)">Optimal Relative MSE</text><rect x="263.8" y="26" width="9.9" height="157.8" fill="url(#vir)"/><text x="275.9" y="161.72" font-family="Liberation Serif" font-size="5.4" font-weight="normal" text-anchor="start" dominant-baseline="central" fill="#666">0.2</text><text x="275.9" y="136.91" font-family="Liberation Serif" font-size="5.4" font-weight="normal" text-anchor="start" dominant-baseline="central" fill="#666">0.3</text><text x="275.9" y="112.1" font-family="Liberation Serif" font-size="5.4" font-weight="normal" text-anchor="start" dominant-baseline="central" fill="#666">0.4</text><text x="275.9" y="87.28" font-family="Liberation Serif" font-size="5.4" font-weight="normal" text-anchor="start" dominant-baseline="central" fill="#666">0.5</text><text x="275.9" y="62.47" font-family="Liberation Serif" font-size="5.4" font-weight="normal" text-anchor="start" dominant-baseline="central" fill="#666">0.6</text><text x="275.9" y="37.66" font-family="Liberation Serif" font-size="5.4" font-weight="normal" text-anchor="start" dominant-baseline="central" fill="#666">0.7</text><text x="286.2" y="105" font-family="Liberation Serif" font-size="6.5" font-weight="normal" text-anchor="middle" dominant-baseline="central" fill="#777" transform="rotate(-90 286.2 105)">Optimal Relative MSE</text></g><g transform="translate(310 266)"><path d="M14.25 178.98L12.08 181.31 M34.11 183.49L31.94 185.82 M54.21 188.05L52.04 190.39 M74.56 192.67L72.39 195.01 M95.17 197.35L92.99 199.69 M116.03 202.09L113.85 204.43 M137.15 206.89L134.97 209.22 M158.53 211.74L156.36 214.08 M168.28 203.42L171.4 204.15 M178.96 191.41L182.08 192.14 M189.32 179.77L192.43 180.5 M199.35 168.48L202.47 169.21 M209.09 157.54L212.21 158.26 M218.54 146.91L221.66 147.63 M225.07 137.63L228.27 138.13 M225.65 121.45L228.85 121.95 M226.23 105.1L229.43 105.6 M226.82 88.57L230.02 89.07 M227.42 71.87L230.62 72.37 M228.02 54.97L231.22 55.47 M228.63 37.9L231.83 38.4" stroke="#333" stroke-width="0.6" fill="none"/><text x="11.2" y="188.3" font-family="Liberation Serif" font-size="5.4" font-weight="normal" text-anchor="middle" dominant-baseline="central" fill="#3a3a3a">64</text><text x="32.04" y="193.03" font-family="Liberation Serif" font-size="5.4" font-weight="normal" text-anchor="middle" dominant-baseline="central" fill="#3a3a3a">96</text><text x="52.89" y="197.76" font-family="Liberation Serif" font-size="5.4" font-weight="normal" text-anchor="middle" dominant-baseline="central" fill="#3a3a3a">128</text><text x="73.73" y="202.49" font-family="Liberation Serif" font-size="5.4" font-weight="normal" text-anchor="middle" dominant-baseline="central" fill="#3a3a3a">160</text><text x="94.57" y="207.21" font-family="Liberation Serif" font-size="5.4" font-weight="normal" text-anchor="middle" dominant-baseline="central" fill="#3a3a3a">192</text><text x="115.41" y="211.94" font-family="Liberation Serif" font-size="5.4" font-weight="normal" text-anchor="middle" dominant-baseline="central" fill="#3a3a3a">224</text><text x="136.26" y="216.67" font-family="Liberation Serif" font-size="5.4" font-weight="normal" text-anchor="middle" dominant-baseline="central" fill="#3a3a3a">256</text><text x="157.1" y="221.4" font-family="Liberation Serif" font-size="5.4" font-weight="normal" text-anchor="middle" dominant-baseline="central" fill="#3a3a3a">300</text><text x="175.7" y="210.9" font-family="Liberation Serif" font-size="5.4" font-weight="normal" text-anchor="middle" dominant-baseline="central" fill="#3a3a3a">200</text><text x="185.46" y="199.78" font-family="Liberation Serif" font-size="5.4" font-weight="normal" text-anchor="middle" dominant-baseline="central" fill="#3a3a3a">400</text><text x="195.22" y="188.66" font-family="Liberation Serif" font-size="5.4" font-weight="normal" text-anchor="middle" dominant-baseline="central" fill="#3a3a3a">600</text><text x="204.98" y="177.54" font-family="Liberation Serif" font-size="5.4" font-weight="normal" text-anchor="middle" dominant-baseline="central" fill="#3a3a3a">800</text><text x="214.74" y="166.42" font-family="Liberation Serif" font-size="5.4" font-weight="normal" text-anchor="middle" dominant-baseline="central" fill="#3a3a3a">1000</text><text x="224.5" y="155.3" font-family="Liberation Serif" font-size="5.4" font-weight="normal" text-anchor="middle" dominant-baseline="central" fill="#3a3a3a">1200</text><text x="236.6" y="138" font-family="Liberation Serif" font-size="5.4" font-weight="normal" text-anchor="middle" dominant-baseline="central" fill="#3a3a3a">1</text><text x="236.6" y="121.3" font-family="Liberation Serif" font-size="5.4" font-weight="normal" text-anchor="middle" dominant-baseline="central" fill="#3a3a3a">2</text><text x="236.6" y="104.6" font-family="Liberation Serif" font-size="5.4" font-weight="normal" text-anchor="middle" dominant-baseline="central" fill="#3a3a3a">3</text><text x="236.6" y="87.9" font-family="Liberation Serif" font-size="5.4" font-weight="normal" text-anchor="middle" dominant-baseline="central" fill="#3a3a3a">4</text><text x="236.6" y="71.2" font-family="Liberation Serif" font-size="5.4" font-weight="normal" text-anchor="middle" dominant-baseline="central" fill="#3a3a3a">5</text><text x="236.6" y="54.5" font-family="Liberation Serif" font-size="5.4" font-weight="normal" text-anchor="middle" dominant-baseline="central" fill="#3a3a3a">6</text><text x="236.6" y="37.8" font-family="Liberation Serif" font-size="5.4" font-weight="normal" text-anchor="middle" dominant-baseline="central" fill="#3a3a3a">7</text><text x="73.6" y="214.7" font-family="Liberation Serif" font-size="7.75" font-weight="bold" text-anchor="middle" dominant-baseline="central" fill="#111" transform="rotate(12.8 73.6 214.7)">SSNR (linear)</text><text x="211.5" y="190.6" font-family="Liberation Serif" font-size="7.75" font-weight="bold" text-anchor="middle" dominant-baseline="central" fill="#111" transform="rotate(-47 211.5 190.6)">Horizon</text><text x="250.5" y="80.4" font-family="Liberation Serif" font-size="7.9" font-weight="bold" text-anchor="middle" dominant-baseline="central" fill="#111" transform="rotate(-90 250.5 80.4)">Inefficiency Ratio (Act. / Opt.)</text><rect x="265.8" y="26.1" width="10.3" height="157.7" fill="url(#vir)"/><text x="278.3" y="165.96" font-family="Liberation Serif" font-size="5.4" font-weight="normal" text-anchor="start" dominant-baseline="central" fill="#666">2</text><text x="278.3" y="137.18" font-family="Liberation Serif" font-size="5.4" font-weight="normal" text-anchor="start" dominant-baseline="central" fill="#666">3</text><text x="278.3" y="108.4" font-family="Liberation Serif" font-size="5.4" font-weight="normal" text-anchor="start" dominant-baseline="central" fill="#666">4</text><text x="278.3" y="79.63" font-family="Liberation Serif" font-size="5.4" font-weight="normal" text-anchor="start" dominant-baseline="central" fill="#666">5</text><text x="278.3" y="50.85" font-family="Liberation Serif" font-size="5.4" font-weight="normal" text-anchor="start" dominant-baseline="central" fill="#666">6</text><text x="283.8" y="105.5" font-family="Liberation Serif" font-size="6.6" font-weight="normal" text-anchor="middle" dominant-baseline="central" fill="#777" transform="rotate(-90 283.8 105.5)">Inefficiency Ratio (Act. / Opt.)</text></g></svg>
<div class="t" id="ta" style="left:48.5px;top:231px;">(a) Actual MSE Surface</div>
<div class="t" id="tb" style="left:349px;top:231px;">(b) Relative MSE Surface</div>
<div class="t" id="tc" style="left:11px;top:497px;">(c) Optimal Relative MSE Surface</div>
<div class="t" id="td" style="left:336px;top:497px;">(d) Inefficiency Ratio Surface</div>
</div></body></html>
